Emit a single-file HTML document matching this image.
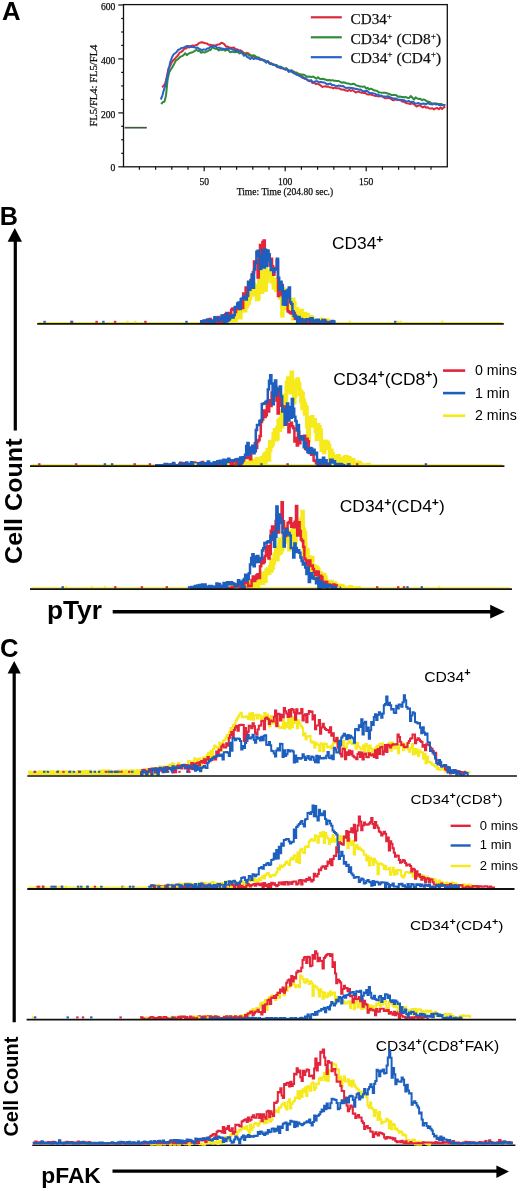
<!DOCTYPE html>
<html><head><meta charset="utf-8"><style>
html,body{margin:0;padding:0;background:#fff;}
body{width:520px;height:1191px;overflow:hidden;position:relative;font-family:"Liberation Sans",sans-serif;}
svg{position:absolute;left:0;top:0;filter:blur(0.3px);}
</style></head><body>
<svg width="520" height="1191" viewBox="0 0 520 1191">
<rect x="123.5" y="4.6" width="323.8" height="162.2" fill="none" stroke="#111" stroke-width="1.3"/>
<line x1="118.3" x2="123.5" y1="166.8" y2="166.8" stroke="#111" stroke-width="1.2"/>
<line x1="121.2" x2="123.5" y1="153.3" y2="153.3" stroke="#111" stroke-width="1.2"/>
<line x1="121.2" x2="123.5" y1="139.8" y2="139.8" stroke="#111" stroke-width="1.2"/>
<line x1="121.2" x2="123.5" y1="126.3" y2="126.3" stroke="#111" stroke-width="1.2"/>
<line x1="118.3" x2="123.5" y1="112.9" y2="112.9" stroke="#111" stroke-width="1.2"/>
<line x1="121.2" x2="123.5" y1="99.4" y2="99.4" stroke="#111" stroke-width="1.2"/>
<line x1="121.2" x2="123.5" y1="85.9" y2="85.9" stroke="#111" stroke-width="1.2"/>
<line x1="121.2" x2="123.5" y1="72.4" y2="72.4" stroke="#111" stroke-width="1.2"/>
<line x1="118.3" x2="123.5" y1="58.9" y2="58.9" stroke="#111" stroke-width="1.2"/>
<line x1="121.2" x2="123.5" y1="45.4" y2="45.4" stroke="#111" stroke-width="1.2"/>
<line x1="121.2" x2="123.5" y1="32.0" y2="32.0" stroke="#111" stroke-width="1.2"/>
<line x1="121.2" x2="123.5" y1="18.5" y2="18.5" stroke="#111" stroke-width="1.2"/>
<line x1="118.3" x2="123.5" y1="5.0" y2="5.0" stroke="#111" stroke-width="1.2"/>
<line x1="139.4" x2="139.4" y1="166.8" y2="169.8" stroke="#111" stroke-width="1.2"/>
<line x1="155.6" x2="155.6" y1="166.8" y2="169.8" stroke="#111" stroke-width="1.2"/>
<line x1="171.8" x2="171.8" y1="166.8" y2="169.8" stroke="#111" stroke-width="1.2"/>
<line x1="188.0" x2="188.0" y1="166.8" y2="169.8" stroke="#111" stroke-width="1.2"/>
<line x1="204.2" x2="204.2" y1="166.8" y2="171.3" stroke="#111" stroke-width="1.2"/>
<line x1="220.4" x2="220.4" y1="166.8" y2="169.8" stroke="#111" stroke-width="1.2"/>
<line x1="236.6" x2="236.6" y1="166.8" y2="169.8" stroke="#111" stroke-width="1.2"/>
<line x1="252.8" x2="252.8" y1="166.8" y2="169.8" stroke="#111" stroke-width="1.2"/>
<line x1="269.0" x2="269.0" y1="166.8" y2="169.8" stroke="#111" stroke-width="1.2"/>
<line x1="285.2" x2="285.2" y1="166.8" y2="171.3" stroke="#111" stroke-width="1.2"/>
<line x1="301.4" x2="301.4" y1="166.8" y2="169.8" stroke="#111" stroke-width="1.2"/>
<line x1="317.6" x2="317.6" y1="166.8" y2="169.8" stroke="#111" stroke-width="1.2"/>
<line x1="333.8" x2="333.8" y1="166.8" y2="169.8" stroke="#111" stroke-width="1.2"/>
<line x1="350.0" x2="350.0" y1="166.8" y2="169.8" stroke="#111" stroke-width="1.2"/>
<line x1="366.2" x2="366.2" y1="166.8" y2="171.3" stroke="#111" stroke-width="1.2"/>
<line x1="382.4" x2="382.4" y1="166.8" y2="169.8" stroke="#111" stroke-width="1.2"/>
<line x1="398.6" x2="398.6" y1="166.8" y2="169.8" stroke="#111" stroke-width="1.2"/>
<line x1="414.8" x2="414.8" y1="166.8" y2="169.8" stroke="#111" stroke-width="1.2"/>
<line x1="431.0" x2="431.0" y1="166.8" y2="169.8" stroke="#111" stroke-width="1.2"/>
<text x="115.4" y="171.4" font-family="Liberation Serif, serif" stroke="#111" stroke-width="0.25" font-size="9.6" text-anchor="end" fill="#111">0</text>
<text x="115.4" y="117.5" font-family="Liberation Serif, serif" stroke="#111" stroke-width="0.25" font-size="9.6" text-anchor="end" fill="#111">200</text>
<text x="115.4" y="63.5" font-family="Liberation Serif, serif" stroke="#111" stroke-width="0.25" font-size="9.6" text-anchor="end" fill="#111">400</text>
<text x="115.4" y="9.6" font-family="Liberation Serif, serif" stroke="#111" stroke-width="0.25" font-size="9.6" text-anchor="end" fill="#111">600</text>
<text x="204.2" y="184.6" font-family="Liberation Serif, serif" stroke="#111" stroke-width="0.25" font-size="9.6" text-anchor="middle" fill="#111">50</text>
<text x="285.2" y="184.6" font-family="Liberation Serif, serif" stroke="#111" stroke-width="0.25" font-size="9.6" text-anchor="middle" fill="#111">100</text>
<text x="366.2" y="184.6" font-family="Liberation Serif, serif" stroke="#111" stroke-width="0.25" font-size="9.6" text-anchor="middle" fill="#111">150</text>
<text x="236.7" y="195.2" font-family="Liberation Serif, serif" stroke="#111" stroke-width="0.25" font-size="9.4" fill="#111" textLength="96.5" lengthAdjust="spacingAndGlyphs">Time: Time (204.80 sec.)</text>
<text transform="translate(97.3,126.6) rotate(-90)" font-family="Liberation Serif, serif" stroke="#111" stroke-width="0.25" font-size="10.4" fill="#111" textLength="82" lengthAdjust="spacingAndGlyphs">FL5/FL4: FL5/FL4</text>
<line x1="310.8" x2="341.8" y1="17.3" y2="17.3" stroke="#dc2a3a" stroke-width="2.2"/>
<text x="350.6" y="24.3" font-family="Liberation Serif, serif" stroke="#111" stroke-width="0.25" font-size="14.8" fill="#111" textLength="41.5" lengthAdjust="spacingAndGlyphs">CD34<tspan dy="-5.5" font-size="9">+</tspan></text>
<line x1="310.8" x2="341.8" y1="37.3" y2="37.3" stroke="#2f8a3a" stroke-width="2.2"/>
<text x="350.6" y="44.3" font-family="Liberation Serif, serif" stroke="#111" stroke-width="0.25" font-size="14.8" fill="#111" textLength="90.5" lengthAdjust="spacingAndGlyphs">CD34<tspan dy="-5.5" font-size="9">+</tspan><tspan dy="5.5"> (CD8</tspan><tspan dy="-5.5" font-size="9">+</tspan><tspan dy="5.5">)</tspan></text>
<line x1="310.8" x2="341.8" y1="57.2" y2="57.2" stroke="#2a62c8" stroke-width="2.2"/>
<text x="350.6" y="62.9" font-family="Liberation Serif, serif" stroke="#111" stroke-width="0.25" font-size="14.8" fill="#111" textLength="90.5" lengthAdjust="spacingAndGlyphs">CD34<tspan dy="-5.5" font-size="9">+</tspan><tspan dy="5.5"> (CD4</tspan><tspan dy="-5.5" font-size="9">+</tspan><tspan dy="5.5">)</tspan></text>
<line x1="124.6" x2="146.8" y1="127.7" y2="127.7" stroke="#3d5a40" stroke-width="1.7"/>
<path d="M162.1,87.2 L163.7,85.8 L165.3,83.2 L166.9,76.1 L168.5,68.4 L170.1,66.0 L171.7,62.3 L173.3,60.1 L174.9,58.9 L176.5,56.9 L178.1,55.2 L179.7,52.6 L181.3,51.9 L182.9,50.6 L184.5,48.6 L186.1,48.5 L187.7,47.1 L189.3,47.5 L190.9,46.0 L192.5,45.5 L194.1,46.0 L195.7,45.2 L197.3,44.8 L198.9,43.1 L200.5,42.5 L202.1,42.2 L203.7,42.8 L205.3,43.3 L206.9,43.4 L208.5,44.7 L210.1,44.8 L211.7,45.3 L213.3,45.2 L214.9,45.9 L216.5,45.0 L218.1,44.5 L219.7,44.2 L221.3,42.7 L222.9,43.3 L224.5,44.4 L226.1,46.8 L227.7,46.5 L229.3,47.4 L230.9,47.8 L232.5,47.8 L234.1,47.6 L235.7,49.5 L237.3,49.3 L238.9,50.6 L240.5,50.2 L242.1,51.3 L243.7,52.9 L245.3,53.7 L246.9,52.8 L248.5,53.5 L250.1,54.9 L251.7,56.0 L253.3,56.4 L254.9,57.2 L256.5,57.1 L258.1,58.7 L259.7,59.7 L261.3,59.5 L262.9,59.6 L264.5,60.6 L266.1,62.1 L267.7,61.3 L269.3,62.9 L270.9,63.0 L272.5,64.2 L274.1,64.7 L275.7,65.5 L277.3,67.0 L278.9,67.1 L280.5,68.2 L282.1,68.1 L283.7,68.5 L285.3,69.6 L286.9,68.5 L288.5,70.7 L290.1,71.4 L291.7,71.3 L293.3,72.9 L294.9,73.0 L296.5,72.5 L298.1,74.4 L299.7,74.6 L301.3,75.8 L302.9,77.0 L304.5,78.7 L306.1,79.1 L307.7,80.0 L309.3,81.2 L310.9,80.8 L312.5,83.1 L314.1,82.4 L315.7,83.9 L317.3,83.7 L318.9,84.4 L320.5,85.3 L322.1,86.9 L323.7,86.6 L325.3,86.2 L326.9,86.7 L328.5,86.6 L330.1,87.5 L331.7,87.4 L333.3,88.4 L334.9,87.5 L336.5,88.3 L338.1,88.3 L339.7,88.6 L341.3,89.6 L342.9,89.5 L344.5,90.0 L346.1,90.6 L347.7,90.9 L349.3,89.7 L350.9,91.0 L352.5,90.0 L354.1,91.2 L355.7,92.6 L357.3,91.7 L358.9,91.8 L360.5,92.4 L362.1,92.7 L363.7,93.0 L365.3,92.9 L366.9,94.2 L368.5,94.5 L370.1,94.2 L371.7,94.8 L373.3,95.4 L374.9,95.9 L376.5,95.9 L378.1,96.4 L379.7,96.2 L381.3,96.1 L382.9,96.8 L384.5,97.9 L386.1,98.2 L387.7,98.1 L389.3,98.1 L390.9,98.9 L392.5,100.0 L394.1,100.2 L395.7,99.4 L397.3,100.1 L398.9,99.7 L400.5,100.2 L402.1,101.4 L403.7,101.7 L405.3,102.6 L406.9,103.2 L408.5,103.4 L410.1,104.1 L411.7,103.5 L413.3,103.6 L414.9,104.9 L416.5,106.5 L418.1,105.7 L419.7,105.3 L421.3,106.4 L422.9,107.4 L424.5,106.3 L426.1,107.7 L427.7,107.2 L429.3,108.6 L430.9,108.5 L432.5,108.3 L434.1,109.4 L435.7,108.2 L437.3,108.1 L438.9,109.2 L440.5,107.5 L442.1,109.0 L443.7,107.5 L445.3,106.7" fill="none" stroke="#dc2a3a" stroke-width="2.0" stroke-linejoin="round"/>
<path d="M161.2,104.1 L162.8,102.0 L164.4,101.7 L166.0,95.7 L167.6,79.7 L169.2,72.2 L170.8,69.4 L172.4,67.1 L174.0,64.2 L175.6,60.9 L177.2,59.7 L178.8,58.4 L180.4,56.7 L182.0,56.1 L183.6,55.1 L185.2,53.2 L186.8,55.2 L188.4,53.8 L190.0,52.9 L191.6,52.6 L193.2,51.8 L194.8,50.9 L196.4,49.8 L198.0,51.0 L199.6,50.6 L201.2,52.8 L202.8,51.9 L204.4,52.6 L206.0,51.9 L207.6,51.3 L209.2,50.2 L210.8,49.9 L212.4,46.8 L214.0,48.3 L215.6,48.7 L217.2,48.9 L218.8,50.4 L220.4,49.4 L222.0,50.2 L223.6,49.3 L225.2,50.7 L226.8,49.8 L228.4,50.0 L230.0,52.3 L231.6,51.7 L233.2,51.7 L234.8,52.2 L236.4,51.7 L238.0,52.3 L239.6,53.5 L241.2,52.5 L242.8,54.1 L244.4,53.2 L246.0,54.5 L247.6,54.0 L249.2,55.8 L250.8,55.8 L252.4,55.5 L254.0,55.3 L255.6,56.4 L257.2,57.4 L258.8,57.5 L260.4,58.8 L262.0,59.9 L263.6,60.0 L265.2,60.5 L266.8,61.9 L268.4,62.0 L270.0,63.4 L271.6,63.4 L273.2,65.1 L274.8,64.7 L276.4,64.9 L278.0,66.2 L279.6,66.4 L281.2,66.9 L282.8,68.0 L284.4,69.1 L286.0,68.1 L287.6,69.9 L289.2,70.5 L290.8,71.1 L292.4,72.2 L294.0,71.5 L295.6,73.1 L297.2,73.2 L298.8,73.9 L300.4,74.2 L302.0,74.4 L303.6,74.7 L305.2,75.5 L306.8,76.8 L308.4,76.5 L310.0,76.7 L311.6,76.9 L313.2,76.6 L314.8,77.6 L316.4,78.7 L318.0,77.2 L319.6,78.7 L321.2,79.0 L322.8,78.8 L324.4,79.2 L326.0,79.7 L327.6,80.3 L329.2,80.0 L330.8,80.5 L332.4,80.1 L334.0,80.7 L335.6,80.7 L337.2,81.1 L338.8,81.0 L340.4,82.0 L342.0,82.8 L343.6,82.3 L345.2,82.8 L346.8,83.4 L348.4,83.4 L350.0,84.2 L351.6,84.2 L353.2,83.8 L354.8,84.2 L356.4,85.5 L358.0,85.8 L359.6,86.4 L361.2,86.4 L362.8,86.9 L364.4,86.4 L366.0,88.5 L367.6,87.8 L369.2,89.4 L370.8,88.6 L372.4,89.4 L374.0,90.4 L375.6,90.6 L377.2,90.9 L378.8,92.3 L380.4,92.6 L382.0,92.8 L383.6,92.8 L385.2,92.8 L386.8,93.3 L388.4,93.7 L390.0,94.3 L391.6,95.0 L393.2,94.9 L394.8,94.9 L396.4,95.3 L398.0,96.7 L399.6,96.4 L401.2,96.7 L402.8,96.9 L404.4,97.2 L406.0,97.1 L407.6,97.9 L409.2,97.9 L410.8,96.0 L412.4,97.7 L414.0,99.6 L415.6,97.4 L417.2,98.4 L418.8,99.1 L420.4,98.8 L422.0,100.2 L423.6,99.4 L425.2,100.1 L426.8,101.3 L428.4,101.7 L430.0,102.2 L431.6,103.3 L433.2,103.4 L434.8,103.4 L436.4,103.4 L438.0,104.0 L439.6,104.0 L441.2,103.9 L442.8,104.8 L444.4,104.9" fill="none" stroke="#2f8a3a" stroke-width="2.0" stroke-linejoin="round"/>
<path d="M160.7,99.5 L162.3,96.0 L163.9,89.8 L165.5,85.2 L167.1,77.2 L168.7,69.4 L170.3,62.0 L171.9,57.5 L173.5,54.5 L175.1,53.3 L176.7,51.9 L178.3,49.7 L179.9,49.2 L181.5,47.9 L183.1,47.7 L184.7,47.2 L186.3,46.2 L187.9,46.1 L189.5,46.2 L191.1,47.0 L192.7,47.1 L194.3,47.2 L195.9,47.9 L197.5,47.6 L199.1,48.9 L200.7,49.5 L202.3,50.0 L203.9,49.4 L205.5,49.9 L207.1,48.4 L208.7,48.5 L210.3,46.7 L211.9,46.3 L213.5,46.9 L215.1,45.5 L216.7,47.6 L218.3,47.7 L219.9,47.8 L221.5,48.6 L223.1,48.8 L224.7,49.2 L226.3,48.7 L227.9,48.6 L229.5,48.7 L231.1,48.7 L232.7,49.7 L234.3,49.8 L235.9,51.3 L237.5,50.2 L239.1,51.1 L240.7,51.8 L242.3,52.4 L243.9,55.8 L245.5,54.7 L247.1,57.1 L248.7,57.7 L250.3,59.1 L251.9,57.2 L253.5,59.1 L255.1,58.3 L256.7,58.8 L258.3,58.6 L259.9,59.5 L261.5,59.2 L263.1,60.4 L264.7,61.3 L266.3,62.7 L267.9,61.0 L269.5,63.8 L271.1,64.2 L272.7,64.0 L274.3,65.1 L275.9,65.4 L277.5,67.2 L279.1,67.0 L280.7,67.5 L282.3,68.1 L283.9,68.8 L285.5,69.4 L287.1,69.7 L288.7,71.9 L290.3,70.4 L291.9,70.3 L293.5,73.0 L295.1,73.8 L296.7,74.9 L298.3,75.3 L299.9,76.2 L301.5,77.1 L303.1,78.1 L304.7,78.0 L306.3,78.7 L307.9,80.6 L309.5,80.5 L311.1,80.1 L312.7,82.2 L314.3,81.7 L315.9,81.3 L317.5,81.3 L319.1,82.4 L320.7,82.1 L322.3,82.3 L323.9,82.5 L325.5,83.2 L327.1,84.4 L328.7,83.9 L330.3,83.6 L331.9,85.1 L333.5,85.0 L335.1,85.6 L336.7,86.1 L338.3,85.6 L339.9,85.8 L341.5,86.2 L343.1,85.9 L344.7,87.3 L346.3,88.0 L347.9,87.7 L349.5,87.8 L351.1,88.1 L352.7,88.1 L354.3,88.5 L355.9,89.0 L357.5,89.1 L359.1,89.7 L360.7,89.4 L362.3,90.9 L363.9,91.2 L365.5,90.9 L367.1,90.7 L368.7,92.4 L370.3,93.4 L371.9,92.9 L373.5,93.4 L375.1,93.8 L376.7,94.9 L378.3,94.4 L379.9,95.9 L381.5,95.5 L383.1,96.6 L384.7,96.4 L386.3,96.6 L387.9,96.2 L389.5,97.0 L391.1,97.6 L392.7,98.4 L394.3,98.5 L395.9,98.4 L397.5,99.3 L399.1,100.0 L400.7,99.7 L402.3,99.8 L403.9,100.2 L405.5,101.2 L407.1,101.4 L408.7,100.9 L410.3,102.0 L411.9,101.8 L413.5,102.0 L415.1,103.5 L416.7,103.6 L418.3,103.0 L419.9,103.8 L421.5,104.1 L423.1,103.4 L424.7,103.7 L426.3,104.2 L427.9,102.8 L429.5,104.0 L431.1,104.3 L432.7,104.4 L434.3,103.5 L435.9,104.6 L437.5,104.1 L439.1,105.1 L440.7,105.3 L442.3,105.2 L443.9,104.9 L445.5,105.1" fill="none" stroke="#2a62c8" stroke-width="2.0" stroke-linejoin="round"/>
<text x="2.0" y="19.6" font-family="Liberation Sans, sans-serif" font-weight="bold" font-size="25.2" fill="#000" textLength="18.6" lengthAdjust="spacingAndGlyphs">A</text>
<text x="-0.3" y="224.8" font-family="Liberation Sans, sans-serif" font-weight="bold" font-size="25.2" fill="#000">B</text>
<text x="-0.1" y="657.2" font-family="Liberation Sans, sans-serif" font-weight="bold" font-size="25.6" fill="#000">C</text>
<line x1="15.3" x2="15.3" y1="240" y2="430.5" stroke="#000" stroke-width="3.2"/>
<polygon points="14.8,228 7.6,241.8 22,241.8" fill="#000"/>
<text transform="translate(21.6,564) rotate(-90)" font-family="Liberation Sans, sans-serif" font-weight="bold" font-size="24.4" fill="#000" textLength="125.5" lengthAdjust="spacingAndGlyphs">Cell Count</text>
<line x1="14.2" x2="14.2" y1="672" y2="1022.3" stroke="#000" stroke-width="3.2"/>
<polygon points="14.2,661 7.6,673.6 20.8,673.6" fill="#000"/>
<text transform="translate(17.9,1136.6) rotate(-90)" font-family="Liberation Sans, sans-serif" font-weight="bold" font-size="20.6" fill="#000" textLength="100" lengthAdjust="spacingAndGlyphs">Cell Count</text>
<text x="46.9" y="618.6" font-family="Liberation Sans, sans-serif" font-weight="bold" font-size="25" fill="#000" textLength="55" lengthAdjust="spacingAndGlyphs">pTyr</text>
<line x1="112.7" x2="492" y1="611.7" y2="611.7" stroke="#000" stroke-width="3.4"/>
<polygon points="504.8,611.7 490.2,604.8 490.2,618.6" fill="#000"/>
<text x="41.3" y="1182.8" font-family="Liberation Sans, sans-serif" font-weight="bold" font-size="22.4" fill="#000" textLength="59.5" lengthAdjust="spacingAndGlyphs">pFAK</text>
<line x1="112.5" x2="498" y1="1171.2" y2="1171.2" stroke="#000" stroke-width="3.2"/>
<polygon points="509,1171.6 496.4,1165.6 496.4,1178" fill="#000"/>
<text x="332.0" y="249.2" font-family="Liberation Sans, sans-serif" font-size="16.8" fill="#000"  textLength="51.5" lengthAdjust="spacingAndGlyphs"><tspan>CD34</tspan><tspan dy="-6.7" font-size="11.8" font-weight="bold">+</tspan></text>
<text x="333.2" y="384.6" font-family="Liberation Sans, sans-serif" font-size="16.4" fill="#000"  textLength="105.0" lengthAdjust="spacingAndGlyphs"><tspan>CD34</tspan><tspan dy="-6.6" font-size="11.5" font-weight="bold">+</tspan><tspan dy="6.6">(CD8</tspan><tspan dy="-6.6" font-size="11.5" font-weight="bold">+</tspan><tspan dy="6.6">)</tspan></text>
<text x="339.8" y="512.4" font-family="Liberation Sans, sans-serif" font-size="16.4" fill="#000"  textLength="105.0" lengthAdjust="spacingAndGlyphs"><tspan>CD34</tspan><tspan dy="-6.6" font-size="11.5" font-weight="bold">+</tspan><tspan dy="6.6">(CD4</tspan><tspan dy="-6.6" font-size="11.5" font-weight="bold">+</tspan><tspan dy="6.6">)</tspan></text>
<line x1="443" x2="465.2" y1="370.6" y2="370.6" stroke="#e3243a" stroke-width="2.6"/>
<text x="475" y="374.8" font-family="Liberation Sans, sans-serif" font-size="14.2" fill="#000">0 mins</text>
<line x1="443" x2="465.2" y1="393.1" y2="393.1" stroke="#1d5fbe" stroke-width="2.6"/>
<text x="475" y="397.6" font-family="Liberation Sans, sans-serif" font-size="14.2" fill="#000">1 min</text>
<line x1="443" x2="465.2" y1="415.7" y2="415.7" stroke="#f7ea1c" stroke-width="2.6"/>
<text x="475" y="419.8" font-family="Liberation Sans, sans-serif" font-size="14.2" fill="#000">2 mins</text>
<text x="424.2" y="681.5" font-family="Liberation Sans, sans-serif" font-size="14.6" fill="#000"  textLength="46.5" lengthAdjust="spacingAndGlyphs"><tspan>CD34</tspan><tspan dy="-5.8" font-size="10.2" font-weight="bold">+</tspan></text>
<text x="410.5" y="803.9" font-family="Liberation Sans, sans-serif" font-size="13.6" fill="#000"  textLength="92.0" lengthAdjust="spacingAndGlyphs"><tspan>CD34</tspan><tspan dy="-5.4" font-size="9.5" font-weight="bold">+</tspan><tspan dy="5.4">(CD8</tspan><tspan dy="-5.4" font-size="9.5" font-weight="bold">+</tspan><tspan dy="5.4">)</tspan></text>
<text x="409.9" y="930.3" font-family="Liberation Sans, sans-serif" font-size="13.6" fill="#000"  textLength="93.5" lengthAdjust="spacingAndGlyphs"><tspan>CD34</tspan><tspan dy="-5.4" font-size="9.5" font-weight="bold">+</tspan><tspan dy="5.4">(CD4</tspan><tspan dy="-5.4" font-size="9.5" font-weight="bold">+</tspan><tspan dy="5.4">)</tspan></text>
<text x="375.8" y="1050.8" font-family="Liberation Sans, sans-serif" font-size="13.8" fill="#000"  textLength="123.5" lengthAdjust="spacingAndGlyphs"><tspan>CD34</tspan><tspan dy="-5.5" font-size="9.7" font-weight="bold">+</tspan><tspan dy="5.5">(CD8</tspan><tspan dy="-5.5" font-size="9.7" font-weight="bold">+</tspan><tspan dy="5.5">FAK)</tspan></text>
<line x1="450.6" x2="470.7" y1="825.8" y2="825.8" stroke="#e3243a" stroke-width="2.4"/>
<text x="479.8" y="830.2" font-family="Liberation Sans, sans-serif" font-size="13" fill="#000">0 mins</text>
<line x1="450.6" x2="470.7" y1="845.5" y2="845.5" stroke="#1d5fbe" stroke-width="2.4"/>
<text x="479.8" y="849.4" font-family="Liberation Sans, sans-serif" font-size="13" fill="#000">1 min</text>
<line x1="450.6" x2="470.7" y1="866.0" y2="866.0" stroke="#f7ea1c" stroke-width="2.4"/>
<text x="479.8" y="870.4" font-family="Liberation Sans, sans-serif" font-size="13" fill="#000">2 mins</text>
<line x1="38.2" x2="501.8" y1="322.5" y2="322.5" stroke="#f7ea1c" stroke-width="1.2"/>
<path d="M205.0 322.8H206.2V322.3H207.4V322.4H208.6V322.8H209.8V321.7H211.0V322.8H212.2V322.7H213.4V321.2H214.6V319.8H215.8V322.8H217.0V322.7H218.2V321.7H219.4V322.8H220.6V321.4H221.8V320.6H223.0V319.6H224.2V321.5H225.4V322.8H226.6V320.9H227.8V320.3H229.0V317.8H230.2V316.3H231.4V320.2H232.6V316.8H233.8V315.5H235.0V320.9H236.2V309.7H237.4V308.5H238.6V312.2H239.8V310.1H241.0V308.2H242.2V301.6H243.4V299.4H244.6V297.1H245.8V306.7H247.0V297.8H248.2V303.1H249.4V290.6H250.6V288.5H251.8V290.0H253.0V284.3H254.2V295.0H255.4V287.6H256.6V286.9H257.8V285.8H259.0V280.3H260.2V280.8H261.4V272.1H262.6V282.0H263.8V270.5H265.0V269.1H266.2V281.2H267.4V276.4H268.6V271.2H269.8V275.0H271.0V269.2H272.2V279.6H273.4V284.9H274.6V279.1H275.8V283.6H277.0V288.2H278.2V283.4H279.4V287.0H280.6V286.7H281.8V305.6H283.0V288.9H284.2V299.1H285.4V291.4H286.6V292.7H287.8V301.7H289.0V301.5H290.2V302.5H291.4V307.1H292.6V299.2H293.8V302.8H295.0V309.8H296.2V308.8H297.4V318.7H298.6V313.0H299.8V313.4H301.0V310.4H302.2V319.8H303.4V318.0H304.6V313.5H305.8V317.0H307.0V314.6H308.2V318.2H309.4V318.1H310.6V316.6H311.8V317.8H313.0V320.9H314.2V321.7H315.4V322.8H316.6V322.8H317.8V320.7H319.0V321.3H320.2V321.1H321.4V319.1H322.6V319.9H323.8V319.6H325.0V322.8H326.2V322.1H327.4V320.3H328.6V321.9H329.8V322.5H331.0" fill="none" stroke="#f7ea1c" stroke-width="3.4" stroke-linejoin="miter"/>
<path d="M205.0 322.8H206.2V322.8H207.4V322.8H208.6V322.8H209.8V322.8H211.0V322.8H212.2V322.8H213.4V322.8H214.6V322.6H215.8V322.5H217.0V322.8H218.2V322.8H219.4V321.5H220.6V322.8H221.8V321.3H223.0V322.8H224.2V321.1H225.4V321.2H226.6V322.3H227.8V322.8H229.0V322.8H230.2V322.8H231.4V322.1H232.6V320.4H233.8V319.5H235.0V318.8H236.2V317.9H237.4V312.1H238.6V310.8H239.8V317.8H241.0V311.1H242.2V305.2H243.4V304.7H244.6V310.8H245.8V306.9H247.0V304.5H248.2V299.0H249.4V298.9H250.6V289.7H251.8V293.7H253.0V290.8H254.2V288.3H255.4V287.0H256.6V299.6H257.8V299.0H259.0V281.8H260.2V278.8H261.4V292.4H262.6V275.5H263.8V274.1H265.0V290.3H266.2V272.8H267.4V273.6H268.6V273.5H269.8V273.4H271.0V281.8H272.2V280.7H273.4V288.1H274.6V284.1H275.8V290.3H277.0V290.6H278.2V290.0H279.4V298.0H280.6V289.3H281.8V315.9H283.0V301.7H284.2V308.4H285.4V298.5H286.6V299.1H287.8V309.0H289.0V306.3H290.2V307.7H291.4V304.0H292.6V318.8H293.8V311.4H295.0V312.7H296.2V316.4H297.4V322.8H298.6V312.6H299.8V313.9H301.0V318.2H302.2V317.4H303.4V321.1H304.6V322.8H305.8V318.4H307.0V322.8H308.2V322.8H309.4V322.2H310.6V322.8H311.8V322.8H313.0V321.1H314.2V322.8H315.4V322.8H316.6V322.8H317.8V321.5H319.0V322.1H320.2V322.8H321.4V322.8H322.6V322.8H323.8V322.8H325.0V322.8H326.2V322.8H327.4V322.8H328.6V322.8H329.8V322.6H331.0" fill="none" stroke="#f7ea1c" stroke-width="3.4" stroke-linejoin="miter"/>
<path d="M200.0 321.2H201.2V322.8H202.4V322.8H203.6V322.8H204.8V320.8H206.0V321.5H207.2V322.8H208.4V322.8H209.6V318.9H210.8V322.1H212.0V321.5H213.2V321.2H214.4V319.4H215.6V322.8H216.8V322.4H218.0V316.9H219.2V322.8H220.4V322.8H221.6V321.4H222.8V315.9H224.0V315.3H225.2V314.2H226.4V313.1H227.6V317.2H228.8V312.9H230.0V315.5H231.2V309.8H232.4V308.5H233.6V309.3H234.8V311.9H236.0V308.8H237.2V308.9H238.4V305.8H239.6V303.9H240.8V301.7H242.0V308.1H243.2V293.6H244.4V294.2H245.6V287.5H246.8V296.0H248.0V289.1H249.2V284.5H250.4V280.0H251.6V287.2H252.8V272.2H254.0V261.4H255.2V261.8H256.4V260.8H257.6V277.4H258.8V256.1H260.0V244.9H261.2V260.8H262.4V241.9H263.6V240.4H264.8V250.5H266.0V256.3H267.2V251.5H268.4V255.5H269.6V265.6H270.8V258.7H272.0V266.3H273.2V274.7H274.4V268.8H275.6V268.2H276.8V260.8H278.0V296.0H279.2V294.6H280.4V292.1H281.6V284.9H282.8V296.1H284.0V293.2H285.2V295.1H286.4V299.3H287.6V311.3H288.8V311.9H290.0V313.0H291.2V313.6H292.4V312.1H293.6V312.9H294.8V318.7H296.0V317.5H297.2V319.9H298.4V320.9H299.6V321.6H300.8V319.4H302.0V321.9H303.2V320.6H304.4V319.8H305.6V321.2H306.8V319.3H308.0V321.0H309.2V321.3H310.4V319.4H311.6V319.5H312.8V322.5H314.0V322.8H315.2V322.8H316.4V322.5H317.6V322.6H318.8V322.8H320.0V322.8H321.2V322.8H322.4V322.7H323.6V322.8H324.8V320.8H326.0V322.8H327.2V322.2H328.4V322.8H329.6V322.7H330.8" fill="none" stroke="#e3243a" stroke-width="2.5" stroke-linejoin="miter"/>
<path d="M200.0 321.6H201.2V322.8H202.4V322.8H203.6V320.6H204.8V320.8H206.0V320.6H207.2V319.5H208.4V322.8H209.6V322.8H210.8V320.6H212.0V322.8H213.2V322.0H214.4V317.3H215.6V318.2H216.8V319.8H218.0V320.8H219.2V318.3H220.4V319.5H221.6V315.5H222.8V318.8H224.0V321.8H225.2V316.8H226.4V313.4H227.6V320.5H228.8V319.3H230.0V316.7H231.2V315.4H232.4V317.5H233.6V315.1H234.8V306.9H236.0V307.2H237.2V303.5H238.4V302.5H239.6V308.9H240.8V299.0H242.0V298.5H243.2V296.6H244.4V297.3H245.6V299.6H246.8V295.2H248.0V281.7H249.2V289.8H250.4V282.5H251.6V274.6H252.8V287.8H254.0V269.5H255.2V262.9H256.4V251.8H257.6V250.8H258.8V256.2H260.0V269.1H261.2V256.1H262.4V249.9H263.6V267.4H264.8V249.7H266.0V266.0H267.2V250.6H268.4V254.2H269.6V260.6H270.8V269.9H272.0V269.3H273.2V272.0H274.4V269.4H275.6V268.4H276.8V258.7H278.0V277.7H279.2V289.7H280.4V281.7H281.6V286.2H282.8V304.4H284.0V291.0H285.2V304.7H286.4V297.2H287.6V289.8H288.8V287.6H290.0V302.2H291.2V304.0H292.4V311.3H293.6V316.0H294.8V315.5H296.0V318.1H297.2V322.5H298.4V317.0H299.6V321.7H300.8V318.9H302.0V320.6H303.2V320.1H304.4V322.6H305.6V322.8H306.8V319.2H308.0V320.2H309.2V321.8H310.4V318.2H311.6V318.5H312.8V320.5H314.0V322.8H315.2V321.3H316.4V319.8H317.6V319.8H318.8V322.8H320.0V321.5H321.2V322.3H322.4V320.0H323.6V320.1H324.8V322.3H326.0V322.8H327.2V322.8H328.4V322.8H329.6V322.0H330.8V321.8H332.0V321.0H333.2V321.5H334.4V322.8H335.6" fill="none" stroke="#1d5fbe" stroke-width="2.5" stroke-linejoin="miter"/>
<rect x="70.9" y="320.8" width="2.4" height="2.0" fill="#e3243a"/>
<rect x="102.2" y="320.8" width="2.4" height="2.0" fill="#1d5fbe"/>
<rect x="134.1" y="320.8" width="2.4" height="2.0" fill="#f7ea1c"/>
<rect x="70.2" y="320.8" width="2.4" height="2.0" fill="#1d5fbe"/>
<rect x="226.0" y="320.8" width="2.4" height="2.0" fill="#1d5fbe"/>
<rect x="95.4" y="320.8" width="2.4" height="2.0" fill="#e3243a"/>
<rect x="306.7" y="320.8" width="2.4" height="2.0" fill="#e3243a"/>
<rect x="185.3" y="320.8" width="2.4" height="2.0" fill="#1d5fbe"/>
<rect x="43.4" y="320.8" width="2.4" height="2.0" fill="#1d5fbe"/>
<rect x="113.9" y="320.8" width="2.4" height="2.0" fill="#e3243a"/>
<rect x="399.4" y="320.8" width="2.4" height="2.0" fill="#f7ea1c"/>
<rect x="396.5" y="320.8" width="2.4" height="2.0" fill="#f7ea1c"/>
<rect x="348.6" y="320.8" width="2.4" height="2.0" fill="#f7ea1c"/>
<rect x="441.0" y="320.8" width="2.4" height="2.0" fill="#f7ea1c"/>
<rect x="126.3" y="320.8" width="2.4" height="2.0" fill="#f7ea1c"/>
<rect x="144.2" y="320.8" width="2.4" height="2.0" fill="#e3243a"/>
<rect x="394.0" y="320.8" width="2.4" height="2.0" fill="#1d5fbe"/>
<rect x="330.8" y="320.8" width="2.4" height="2.0" fill="#1d5fbe"/>
<line x1="37.2" x2="503.8" y1="323.8" y2="323.8" stroke="#111" stroke-width="1.7"/>
<line x1="31.0" x2="502.4" y1="464.9" y2="464.9" stroke="#f7ea1c" stroke-width="1.2"/>
<path d="M200.0 464.8H201.2V465.2H202.4V465.2H203.6V465.2H204.8V465.2H206.0V465.2H207.2V465.2H208.4V465.2H209.6V464.1H210.8V465.2H212.0V464.7H213.2V465.2H214.4V465.1H215.6V465.1H216.8V462.9H218.0V465.2H219.2V463.9H220.4V463.5H221.6V464.3H222.8V465.2H224.0V465.2H225.2V463.6H226.4V462.3H227.6V465.2H228.8V461.6H230.0V465.2H231.2V465.2H232.4V465.2H233.6V461.4H234.8V461.2H236.0V462.3H237.2V462.3H238.4V462.5H239.6V463.2H240.8V462.4H242.0V462.0H243.2V462.0H244.4V465.2H245.6V464.2H246.8V463.6H248.0V462.5H249.2V463.6H250.4V460.1H251.6V460.5H252.8V461.0H254.0V462.1H255.2V462.2H256.4V458.7H257.6V463.8H258.8V460.2H260.0V461.6H261.2V457.7H262.4V462.0H263.6V455.3H264.8V453.6H266.0V453.1H267.2V449.4H268.4V451.8H269.6V441.6H270.8V444.3H272.0V444.4H273.2V433.7H274.4V429.8H275.6V439.9H276.8V438.7H278.0V420.6H279.2V419.3H280.4V426.7H281.6V426.8H282.8V395.3H284.0V403.8H285.2V397.1H286.4V387.2H287.6V377.9H288.8V388.4H290.0V380.7H291.2V372.3H292.4V382.6H293.6V402.9H294.8V386.3H296.0V380.2H297.2V378.9H298.4V387.5H299.6V394.2H300.8V391.9H302.0V393.7H303.2V400.1H304.4V403.7H305.6V407.3H306.8V427.0H308.0V435.1H309.2V418.0H310.4V425.7H311.6V416.6H312.8V421.6H314.0V419.7H315.2V426.0H316.4V429.9H317.6V424.8H318.8V426.6H320.0V429.9H321.2V445.4H322.4V441.5H323.6V452.6H324.8V441.3H326.0V447.7H327.2V442.3H328.4V445.3H329.6V461.4H330.8V450.3H332.0V453.8H333.2V456.9H334.4V463.3H335.6V457.2H336.8V456.7H338.0V455.7H339.2V460.0H340.4V459.8H341.6V462.7H342.8V458.5H344.0V457.4H345.2V456.7H346.4V457.0H347.6V464.0H348.8V457.6H350.0V463.7H351.2V459.6H352.4V459.4H353.6V462.2H354.8V465.2H356.0V464.0H357.2V465.2H358.4V462.2H359.6V463.2H360.8V465.2H362.0V465.2H363.2V465.2H364.4V465.2H365.6V465.2H366.8V465.2H368.0V464.4H369.2V465.2H370.4" fill="none" stroke="#f7ea1c" stroke-width="3.4" stroke-linejoin="miter"/>
<path d="M200.0 465.2H201.2V465.2H202.4V465.2H203.6V465.2H204.8V465.1H206.0V465.2H207.2V465.2H208.4V465.2H209.6V465.2H210.8V465.2H212.0V465.2H213.2V465.1H214.4V465.2H215.6V465.2H216.8V465.2H218.0V465.2H219.2V465.1H220.4V465.2H221.6V465.2H222.8V465.2H224.0V465.2H225.2V465.2H226.4V465.1H227.6V465.2H228.8V465.2H230.0V465.2H231.2V465.2H232.4V465.2H233.6V465.2H234.8V465.2H236.0V465.2H237.2V465.2H238.4V465.2H239.6V465.2H240.8V464.9H242.0V465.2H243.2V465.2H244.4V464.8H245.6V465.2H246.8V465.2H248.0V464.2H249.2V465.2H250.4V465.2H251.6V463.5H252.8V463.2H254.0V463.0H255.2V464.0H256.4V464.2H257.6V462.8H258.8V461.9H260.0V464.0H261.2V463.3H262.4V464.7H263.6V464.3H264.8V462.9H266.0V453.5H267.2V453.2H268.4V460.1H269.6V450.0H270.8V446.4H272.0V442.2H273.2V439.4H274.4V433.4H275.6V435.1H276.8V427.9H278.0V426.7H279.2V430.2H280.4V418.3H281.6V411.0H282.8V407.8H284.0V402.2H285.2V408.9H286.4V382.3H287.6V390.1H288.8V379.9H290.0V392.7H291.2V383.2H292.4V391.1H293.6V383.1H294.8V395.8H296.0V384.7H297.2V383.3H298.4V383.3H299.6V390.3H300.8V401.5H302.0V408.5H303.2V404.0H304.4V414.0H305.6V407.2H306.8V422.1H308.0V441.0H309.2V425.5H310.4V419.1H311.6V419.9H312.8V425.7H314.0V423.5H315.2V431.4H316.4V439.6H317.6V427.4H318.8V432.5H320.0V432.1H321.2V450.2H322.4V447.1H323.6V446.8H324.8V448.1H326.0V448.5H327.2V448.2H328.4V448.2H329.6V452.4H330.8V458.4H332.0V460.9H333.2V461.1H334.4V456.3H335.6V461.6H336.8V461.7H338.0V460.9H339.2V460.2H340.4V464.6H341.6V461.3H342.8V462.5H344.0V460.3H345.2V460.9H346.4V460.9H347.6V461.0H348.8V462.9H350.0V464.1H351.2V463.2H352.4V463.8H353.6V465.2H354.8V465.1H356.0V465.2H357.2V465.1H358.4V465.2H359.6V465.2H360.8V465.2H362.0V465.2H363.2V465.2H364.4V465.2H365.6V465.2H366.8V465.1H368.0V465.2H369.2V465.1H370.4" fill="none" stroke="#f7ea1c" stroke-width="3.4" stroke-linejoin="miter"/>
<path d="M160.0 465.2H161.2V465.2H162.4V465.2H163.6V465.2H164.8V465.2H166.0V465.2H167.2V465.2H168.4V465.2H169.6V465.2H170.8V464.5H172.0V465.2H173.2V464.1H174.4V465.2H175.6V465.2H176.8V465.2H178.0V465.2H179.2V464.1H180.4V465.1H181.6V465.2H182.8V463.5H184.0V463.2H185.2V465.2H186.4V464.4H187.6V465.2H188.8V464.5H190.0V465.2H191.2V463.5H192.4V464.2H193.6V462.5H194.8V463.1H196.0V463.5H197.2V463.8H198.4V465.2H199.6V464.7H200.8V465.2H202.0V462.1H203.2V463.4H204.4V464.8H205.6V465.2H206.8V463.6H208.0V463.8H209.2V463.8H210.4V465.2H211.6V465.2H212.8V465.2H214.0V464.4H215.2V464.0H216.4V464.7H217.6V461.7H218.8V464.3H220.0V465.1H221.2V461.8H222.4V462.2H223.6V465.2H224.8V462.7H226.0V464.8H227.2V465.2H228.4V464.9H229.6V461.4H230.8V460.4H232.0V465.2H233.2V461.6H234.4V461.5H235.6V460.1H236.8V463.8H238.0V462.0H239.2V461.6H240.4V463.9H241.6V462.3H242.8V460.4H244.0V457.6H245.2V458.0H246.4V457.9H247.6V452.5H248.8V451.2H250.0V459.2H251.2V449.6H252.4V449.3H253.6V446.8H254.8V443.2H256.0V448.1H257.2V441.4H258.4V440.1H259.6V436.0H260.8V422.0H262.0V419.4H263.2V410.5H264.4V417.0H265.6V415.2H266.8V400.9H268.0V411.6H269.2V400.3H270.4V406.1H271.6V392.4H272.8V393.5H274.0V395.4H275.2V387.1H276.4V400.6H277.6V413.5H278.8V389.4H280.0V405.5H281.2V405.8H282.4V406.8H283.6V406.5H284.8V408.4H286.0V410.7H287.2V424.2H288.4V432.2H289.6V425.8H290.8V422.7H292.0V426.2H293.2V428.2H294.4V441.4H295.6V438.1H296.8V445.6H298.0V432.1H299.2V443.3H300.4V436.6H301.6V436.3H302.8V438.4H304.0V435.8H305.2V448.9H306.4V438.8H307.6V441.3H308.8V450.0H310.0V453.3H311.2V454.8H312.4V452.6H313.6V460.4H314.8V461.0H316.0V463.2H317.2V464.1H318.4V465.2H319.6V461.1H320.8V461.8H322.0V465.2H323.2V465.2H324.4V465.2H325.6V464.0H326.8V463.5H328.0V464.7H329.2V464.4H330.4" fill="none" stroke="#e3243a" stroke-width="2.5" stroke-linejoin="miter"/>
<path d="M155.0 465.2H156.2V465.2H157.4V465.2H158.6V465.2H159.8V465.2H161.0V465.2H162.2V465.2H163.4V465.2H164.6V464.0H165.8V463.9H167.0V465.2H168.2V465.2H169.4V464.6H170.6V464.7H171.8V464.8H173.0V462.9H174.2V465.2H175.4V465.2H176.6V465.2H177.8V465.2H179.0V465.2H180.2V462.7H181.4V465.2H182.6V464.6H183.8V465.0H185.0V464.4H186.2V462.4H187.4V464.1H188.6V464.9H189.8V465.2H191.0V462.3H192.2V464.4H193.4V463.5H194.6V465.2H195.8V464.9H197.0V464.2H198.2V463.3H199.4V465.2H200.6V462.8H201.8V465.2H203.0V465.2H204.2V463.2H205.4V463.4H206.6V465.2H207.8V461.4H209.0V464.5H210.2V465.0H211.4V463.6H212.6V465.2H213.8V462.2H215.0V464.2H216.2V465.2H217.4V461.2H218.6V462.5H219.8V460.7H221.0V462.9H222.2V464.9H223.4V459.7H224.6V465.2H225.8V459.9H227.0V462.2H228.2V458.7H229.4V460.4H230.6V460.5H231.8V461.1H233.0V460.8H234.2V460.3H235.4V459.6H236.6V459.3H237.8V459.1H239.0V464.9H240.2V457.4H241.4V462.7H242.6V457.3H243.8V458.1H245.0V454.8H246.2V446.1H247.4V443.0H248.6V455.1H249.8V451.7H251.0V447.4H252.2V445.8H253.4V453.3H254.6V451.3H255.8V430.0H257.0V425.1H258.2V425.0H259.4V421.0H260.6V420.6H261.8V404.1H263.0V403.7H264.2V403.2H265.4V401.9H266.6V401.8H267.8V389.4H269.0V380.8H270.2V375.3H271.4V383.6H272.6V404.3H273.8V388.2H275.0V380.4H276.2V395.3H277.4V388.6H278.6V390.1H279.8V386.5H281.0V396.5H282.2V411.6H283.4V409.4H284.6V424.8H285.8V416.0H287.0V403.5H288.2V420.4H289.4V406.9H290.6V417.8H291.8V399.0H293.0V408.8H294.2V416.7H295.4V421.0H296.6V430.4H297.8V425.1H299.0V436.4H300.2V439.6H301.4V438.1H302.6V436.4H303.8V447.2H305.0V443.1H306.2V449.3H307.4V452.0H308.6V452.8H309.8V447.9H311.0V448.4H312.2V453.0H313.4V449.8H314.6V454.3H315.8V452.8H317.0V461.2H318.2V465.2H319.4V460.0H320.6V464.3H321.8V460.1H323.0V457.8H324.2V463.1H325.4V460.3H326.6V465.2H327.8V464.5H329.0V464.6H330.2V459.7H331.4V459.8H332.6V462.4H333.8V461.3H335.0V465.2H336.2V464.0H337.4V464.8H338.6V465.2H339.8V463.9H341.0V464.2H342.2V465.2H343.4V465.2H344.6V465.2H345.8V465.2H347.0V465.2H348.2V465.2H349.4V464.3H350.6" fill="none" stroke="#1d5fbe" stroke-width="2.5" stroke-linejoin="miter"/>
<rect x="356.0" y="463.2" width="2.4" height="2.0" fill="#e3243a"/>
<rect x="243.5" y="463.2" width="2.4" height="2.0" fill="#f7ea1c"/>
<rect x="110.9" y="463.2" width="2.4" height="2.0" fill="#1d5fbe"/>
<rect x="227.2" y="463.2" width="2.4" height="2.0" fill="#f7ea1c"/>
<rect x="199.4" y="463.2" width="2.4" height="2.0" fill="#1d5fbe"/>
<rect x="424.7" y="463.2" width="2.4" height="2.0" fill="#1d5fbe"/>
<rect x="38.1" y="463.2" width="2.4" height="2.0" fill="#e3243a"/>
<rect x="345.5" y="463.2" width="2.4" height="2.0" fill="#f7ea1c"/>
<rect x="194.3" y="463.2" width="2.4" height="2.0" fill="#f7ea1c"/>
<rect x="264.5" y="463.2" width="2.4" height="2.0" fill="#f7ea1c"/>
<rect x="234.4" y="463.2" width="2.4" height="2.0" fill="#e3243a"/>
<rect x="260.2" y="463.2" width="2.4" height="2.0" fill="#1d5fbe"/>
<rect x="133.5" y="463.2" width="2.4" height="2.0" fill="#e3243a"/>
<rect x="346.7" y="463.2" width="2.4" height="2.0" fill="#1d5fbe"/>
<rect x="148.7" y="463.2" width="2.4" height="2.0" fill="#e3243a"/>
<rect x="286.4" y="463.2" width="2.4" height="2.0" fill="#e3243a"/>
<rect x="103.7" y="463.2" width="2.4" height="2.0" fill="#1d5fbe"/>
<rect x="74.9" y="463.2" width="2.4" height="2.0" fill="#e3243a"/>
<line x1="30.0" x2="504.4" y1="466.2" y2="466.2" stroke="#111" stroke-width="1.7"/>
<line x1="31.0" x2="510.0" y1="587.9" y2="587.9" stroke="#f7ea1c" stroke-width="1.2"/>
<path d="M200.0 588.2H201.2V588.2H202.4V587.8H203.6V588.2H204.8V588.2H206.0V587.8H207.2V588.2H208.4V588.2H209.6V588.1H210.8V588.2H212.0V588.2H213.2V588.2H214.4V588.2H215.6V588.2H216.8V588.2H218.0V588.2H219.2V588.2H220.4V588.2H221.6V588.2H222.8V588.2H224.0V588.2H225.2V588.2H226.4V588.2H227.6V587.6H228.8V588.2H230.0V585.6H231.2V585.4H232.4V588.2H233.6V584.8H234.8V586.0H236.0V586.8H237.2V586.9H238.4V583.8H239.6V588.2H240.8V587.1H242.0V583.1H243.2V583.1H244.4V585.8H245.6V582.3H246.8V588.2H248.0V581.6H249.2V583.6H250.4V581.1H251.6V582.9H252.8V584.0H254.0V587.9H255.2V585.3H256.4V587.5H257.6V580.7H258.8V580.7H260.0V580.1H261.2V576.7H262.4V572.9H263.6V574.9H264.8V573.6H266.0V573.9H267.2V568.9H268.4V572.0H269.6V566.6H270.8V559.5H272.0V564.8H273.2V561.2H274.4V556.1H275.6V547.7H276.8V553.0H278.0V551.4H279.2V539.1H280.4V541.9H281.6V549.7H282.8V533.2H284.0V526.4H285.2V536.4H286.4V542.0H287.6V531.5H288.8V532.3H290.0V532.3H291.2V531.1H292.4V535.4H293.6V535.6H294.8V522.8H296.0V521.3H297.2V532.4H298.4V527.1H299.6V525.3H300.8V522.6H302.0V511.5H303.2V529.2H304.4V532.4H305.6V550.5H306.8V549.4H308.0V557.2H309.2V557.0H310.4V564.9H311.6V557.5H312.8V568.3H314.0V565.9H315.2V567.4H316.4V567.1H317.6V569.3H318.8V574.7H320.0V572.9H321.2V575.5H322.4V578.2H323.6V574.5H324.8V577.2H326.0V581.2H327.2V586.9H328.4V586.0H329.6V583.4H330.8V581.5H332.0V584.7H333.2V585.4H334.4V583.0H335.6V588.2H336.8V586.2H338.0V585.1H339.2V588.2H340.4V586.6H341.6V585.5H342.8V587.2H344.0V587.4H345.2V588.2H346.4V588.2H347.6V588.2H348.8V588.2H350.0V586.6H351.2V588.2H352.4V588.2H353.6V588.2H354.8V588.2H356.0V588.2H357.2V588.2H358.4V588.2H359.6V588.1H360.8" fill="none" stroke="#f7ea1c" stroke-width="3.4" stroke-linejoin="miter"/>
<path d="M200.0 588.2H201.2V588.2H202.4V588.1H203.6V588.2H204.8V588.2H206.0V588.2H207.2V588.2H208.4V588.1H209.6V588.2H210.8V588.2H212.0V588.1H213.2V588.2H214.4V588.2H215.6V588.2H216.8V588.2H218.0V588.2H219.2V588.2H220.4V588.2H221.6V588.2H222.8V588.2H224.0V588.2H225.2V588.2H226.4V588.2H227.6V588.2H228.8V588.2H230.0V587.8H231.2V588.2H232.4V588.2H233.6V588.0H234.8V588.2H236.0V587.2H237.2V588.1H238.4V587.2H239.6V588.2H240.8V588.2H242.0V588.2H243.2V588.2H244.4V587.6H245.6V588.2H246.8V587.1H248.0V586.4H249.2V584.9H250.4V585.7H251.6V585.8H252.8V587.4H254.0V586.4H255.2V585.8H256.4V586.5H257.6V586.4H258.8V582.6H260.0V581.9H261.2V580.1H262.4V583.3H263.6V575.5H264.8V581.4H266.0V570.3H267.2V571.5H268.4V573.2H269.6V569.4H270.8V571.1H272.0V568.3H273.2V563.0H274.4V554.3H275.6V558.0H276.8V559.9H278.0V554.2H279.2V543.0H280.4V552.9H281.6V545.4H282.8V546.8H284.0V540.8H285.2V540.3H286.4V538.6H287.6V534.9H288.8V549.7H290.0V532.8H291.2V536.9H292.4V529.8H293.6V546.8H294.8V543.1H296.0V524.8H297.2V532.5H298.4V526.7H299.6V528.5H300.8V519.1H302.0V524.8H303.2V555.0H304.4V542.1H305.6V551.3H306.8V552.0H308.0V563.5H309.2V558.5H310.4V559.0H311.6V577.0H312.8V572.4H314.0V573.7H315.2V579.0H316.4V575.6H317.6V577.7H318.8V574.1H320.0V581.9H321.2V581.4H322.4V578.7H323.6V577.8H324.8V580.5H326.0V584.0H327.2V583.4H328.4V585.3H329.6V587.2H330.8V588.0H332.0V588.2H333.2V587.0H334.4V587.1H335.6V588.0H336.8V587.1H338.0V588.2H339.2V588.2H340.4V588.1H341.6V588.1H342.8V588.2H344.0V588.2H345.2V588.2H346.4V588.2H347.6V588.2H348.8V588.2H350.0V588.2H351.2V588.2H352.4V588.2H353.6V588.2H354.8V588.2H356.0V588.2H357.2V588.2H358.4V588.2H359.6V587.9H360.8" fill="none" stroke="#f7ea1c" stroke-width="3.4" stroke-linejoin="miter"/>
<path d="M200.0 587.8H201.2V588.2H202.4V588.2H203.6V588.2H204.8V587.4H206.0V588.2H207.2V588.2H208.4V587.0H209.6V588.2H210.8V586.8H212.0V588.2H213.2V587.1H214.4V588.0H215.6V587.4H216.8V588.2H218.0V586.6H219.2V586.0H220.4V587.7H221.6V585.7H222.8V587.3H224.0V585.5H225.2V585.4H226.4V588.2H227.6V588.2H228.8V588.0H230.0V588.2H231.2V587.5H232.4V587.3H233.6V586.6H234.8V584.5H236.0V584.4H237.2V586.1H238.4V584.9H239.6V587.4H240.8V587.3H242.0V585.9H243.2V588.2H244.4V581.9H245.6V580.7H246.8V582.8H248.0V586.2H249.2V585.8H250.4V586.0H251.6V580.0H252.8V576.5H254.0V580.9H255.2V579.0H256.4V575.2H257.6V574.3H258.8V578.0H260.0V566.2H261.2V558.1H262.4V563.3H263.6V562.1H264.8V555.9H266.0V547.2H267.2V546.3H268.4V558.4H269.6V554.0H270.8V530.7H272.0V526.6H273.2V539.8H274.4V530.1H275.6V521.0H276.8V515.6H278.0V532.4H279.2V521.6H280.4V523.0H281.6V502.3H282.8V521.3H284.0V528.4H285.2V535.9H286.4V534.6H287.6V523.0H288.8V522.0H290.0V518.2H291.2V526.8H292.4V523.5H293.6V527.3H294.8V521.7H296.0V506.1H297.2V535.5H298.4V522.3H299.6V531.0H300.8V539.4H302.0V541.1H303.2V546.9H304.4V558.8H305.6V560.4H306.8V564.5H308.0V566.1H309.2V560.4H310.4V565.9H311.6V565.6H312.8V568.9H314.0V571.7H315.2V574.9H316.4V571.4H317.6V571.8H318.8V583.8H320.0V575.7H321.2V577.0H322.4V583.7H323.6V584.3H324.8V581.8H326.0V581.9H327.2V585.0H328.4V584.5H329.6V585.1H330.8V586.6H332.0V586.7H333.2V584.5H334.4V585.1H335.6V585.6H336.8V588.2H338.0V588.2H339.2V587.2H340.4" fill="none" stroke="#e3243a" stroke-width="2.5" stroke-linejoin="miter"/>
<path d="M190.0 588.2H191.2V587.1H192.4V588.2H193.6V588.2H194.8V586.1H196.0V588.2H197.2V585.6H198.4V588.2H199.6V585.1H200.8V588.2H202.0V584.6H203.2V588.1H204.4V584.6H205.6V588.2H206.8V586.8H208.0V588.2H209.2V586.0H210.4V586.0H211.6V587.4H212.8V588.2H214.0V586.7H215.2V586.9H216.4V583.5H217.6V585.7H218.8V584.0H220.0V586.5H221.2V587.0H222.4V586.9H223.6V583.1H224.8V585.0H226.0V588.2H227.2V582.2H228.4V584.0H229.6V584.3H230.8V582.2H232.0V583.3H233.2V583.7H234.4V584.7H235.6V586.4H236.8V585.4H238.0V580.2H239.2V581.8H240.4V583.5H241.6V586.9H242.8V580.5H244.0V579.0H245.2V574.8H246.4V580.6H247.6V579.0H248.8V573.3H250.0V564.5H251.2V558.0H252.4V554.3H253.6V566.2H254.8V562.2H256.0V556.4H257.2V556.1H258.4V562.1H259.6V558.9H260.8V558.4H262.0V550.4H263.2V548.2H264.4V543.1H265.6V543.6H266.8V542.0H268.0V541.2H269.2V542.2H270.4V536.1H271.6V538.0H272.8V532.4H274.0V546.7H275.2V536.7H276.4V506.4H277.6V529.1H278.8V514.5H280.0V518.3H281.2V521.5H282.4V532.6H283.6V546.6H284.8V534.8H286.0V529.2H287.2V532.7H288.4V533.0H289.6V535.5H290.8V548.1H292.0V548.1H293.2V557.5H294.4V543.6H295.6V548.1H296.8V552.1H298.0V550.3H299.2V552.8H300.4V557.4H301.6V561.0H302.8V564.5H304.0V563.1H305.2V567.6H306.4V574.0H307.6V567.9H308.8V582.1H310.0V578.3H311.2V573.3H312.4V576.8H313.6V578.6H314.8V578.7H316.0V583.2H317.2V578.1H318.4V587.9H319.6V581.4H320.8V587.3H322.0V582.8H323.2V586.8H324.4V584.6H325.6V586.8H326.8V587.5H328.0V585.3H329.2V586.3H330.4V585.8H331.6V588.2H332.8V588.2H334.0V587.6H335.2V587.2H336.4V588.2H337.6V588.2H338.8V588.2H340.0V588.1H341.2" fill="none" stroke="#1d5fbe" stroke-width="2.5" stroke-linejoin="miter"/>
<rect x="438.0" y="586.2" width="2.4" height="2.0" fill="#f7ea1c"/>
<rect x="187.8" y="586.2" width="2.4" height="2.0" fill="#1d5fbe"/>
<rect x="103.8" y="586.2" width="2.4" height="2.0" fill="#f7ea1c"/>
<rect x="376.0" y="586.2" width="2.4" height="2.0" fill="#e3243a"/>
<rect x="114.1" y="586.2" width="2.4" height="2.0" fill="#e3243a"/>
<rect x="140.7" y="586.2" width="2.4" height="2.0" fill="#e3243a"/>
<rect x="420.6" y="586.2" width="2.4" height="2.0" fill="#1d5fbe"/>
<rect x="90.5" y="586.2" width="2.4" height="2.0" fill="#f7ea1c"/>
<rect x="165.6" y="586.2" width="2.4" height="2.0" fill="#e3243a"/>
<rect x="213.3" y="586.2" width="2.4" height="2.0" fill="#1d5fbe"/>
<rect x="337.4" y="586.2" width="2.4" height="2.0" fill="#f7ea1c"/>
<rect x="402.8" y="586.2" width="2.4" height="2.0" fill="#e3243a"/>
<rect x="217.1" y="586.2" width="2.4" height="2.0" fill="#1d5fbe"/>
<rect x="64.8" y="586.2" width="2.4" height="2.0" fill="#f7ea1c"/>
<rect x="397.0" y="586.2" width="2.4" height="2.0" fill="#e3243a"/>
<rect x="61.5" y="586.2" width="2.4" height="2.0" fill="#1d5fbe"/>
<rect x="406.3" y="586.2" width="2.4" height="2.0" fill="#1d5fbe"/>
<rect x="243.9" y="586.2" width="2.4" height="2.0" fill="#1d5fbe"/>
<line x1="30.0" x2="512.0" y1="589.2" y2="589.2" stroke="#111" stroke-width="1.7"/>
<line x1="28.3" x2="160.0" y1="773.6" y2="773.6" stroke="#f7ea1c" stroke-width="3.0"/>
<path d="M28.0 772.2H29.2V771.4H30.5V772.2H31.8V772.2H33.0V772.2H34.2V772.2H35.5V772.2H36.8V772.2H38.0V772.2H39.2V771.3H40.5V772.2H41.8V772.2H43.0V771.6H44.2V771.2H45.5V771.3H46.8V772.2H48.0V772.2H49.2V772.2H50.5V771.2H51.8V771.2H53.0V771.2H54.2V771.5H55.5V772.2H56.8V772.1H58.0V771.1H59.2V771.4H60.5V771.5H61.8V772.2H63.0V771.8H64.2V772.2H65.5V771.3H66.8V772.2H68.0V772.2H69.2V771.7H70.5V771.2H71.8V772.0H73.0V772.2H74.2V772.2H75.5V772.2H76.8V771.7H78.0V770.9H79.2V770.9H80.5V770.9H81.8V772.2H83.0V772.2H84.2V770.8H85.5V771.3H86.8V772.2H88.0V771.0H89.2V770.8H90.5V772.2H91.8V772.2H93.0V772.2H94.2V771.4H95.5V772.2H96.8V772.2H98.0V772.2H99.2V770.7H100.5V771.8H101.8V770.6H103.0V770.6H104.2V772.2H105.5V770.6H106.8V770.6H108.0V771.5H109.2V770.6H110.5V772.2H111.8V771.5H113.0V771.9H114.2V772.0H115.5V771.5H116.8V771.2H118.0V770.5H119.2V771.2H120.5V772.2H121.8V770.4H123.0V771.9H124.2V772.2H125.5V770.4H126.8V772.1H128.0V772.2H129.2V770.7H130.5V770.3H131.8V772.2H133.0V770.3H134.2V772.1H135.5V770.9H136.8V770.3H138.0V772.2H139.2V770.2H140.5V770.0H141.8V769.8H143.0V772.2H144.2V771.3H145.5V771.0H146.8V768.9H148.0V772.0H149.2V768.8H150.5V769.5H151.8V768.3H153.0V769.5H154.2V770.1H155.5V768.6H156.8V771.8H158.0V769.9H159.2V766.6H160.5V769.2H161.8V768.6H163.0V766.5H164.2V772.2H165.5V768.9H166.8V766.3H168.0V767.2H169.2V764.7H170.5V767.8H171.8V763.2H173.0V764.0H174.2V767.1H175.5V766.9H176.8V765.6H178.0V763.1H179.2V767.5H180.5V764.8H181.8V765.6H183.0V766.4H184.2V766.4H185.5V766.3H186.8V766.0H188.0V761.3H189.2V761.1H190.5V764.4H191.8V762.5H193.0V761.5H194.2V758.3H195.5V759.8H196.8V766.0H198.0V758.9H199.2V758.6H200.5V770.7H201.8V763.2H203.0V757.5H204.2V758.3H205.5V757.2H206.8V755.0H208.0V752.8H209.2V761.7H210.5V750.9H211.8V759.6H213.0V748.9H214.2V745.5H215.5V746.9H216.8V747.5H218.0V751.8H219.2V742.5H220.5V750.7H221.8V745.5H223.0V740.7H224.2V740.1H225.5V737.4H226.8V734.9H228.0V739.2H229.2V731.6H230.5V728.0H231.8V732.1H233.0V725.3H234.2V724.3H235.5V720.4H236.8V718.4H238.0V716.5H239.2V714.6H240.5V712.7H241.8V717.3H243.0V716.6H244.2V716.6H245.5V717.5H246.8V716.2H248.0V719.0H249.2V713.6H250.5V719.6H251.8V712.9H253.0V719.8H254.2V715.3H255.5V714.7H256.8V718.6H258.0V714.7H259.2V715.3H260.5V719.2H261.8V716.6H263.0V718.6H264.2V713.1H265.5V720.2H266.8V714.3H268.0V719.1H269.2V726.6H270.5V716.1H271.8V723.6H273.0V720.5H274.2V722.0H275.5V724.3H276.8V718.7H278.0V725.7H279.2V727.7H280.5V726.9H281.8V728.1H283.0V720.0H284.2V728.4H285.5V723.1H286.8V727.1H288.0V718.7H289.2V728.7H290.5V718.8H291.8V727.3H293.0V717.4H294.2V723.0H295.5V719.7H296.8V728.2H298.0V720.3H299.2V723.5H300.5V726.1H301.8V727.8H303.0V735.6H304.2V733.2H305.5V739.3H306.8V736.4H308.0V736.3H309.2V736.1H310.5V741.4H311.8V742.7H313.0V741.5H314.2V747.7H315.5V742.8H316.8V744.5H318.0V745.1H319.2V751.0H320.5V743.3H321.8V744.5H323.0V751.2H324.2V743.6H325.5V743.9H326.8V747.3H328.0V746.8H329.2V746.4H330.5V748.6H331.8V745.6H333.0V743.0H334.2V740.4H335.5V742.5H336.8V737.4H338.0V744.9H339.2V743.1H340.5V741.6H341.8V745.2H343.0V741.1H344.2V746.7H345.5V748.3H346.8V743.6H348.0V742.6H349.2V740.2H350.5V743.1H351.8V743.9H353.0V744.1H354.2V742.2H355.5V748.7H356.8V743.1H358.0V746.5H359.2V747.6H360.5V749.5H361.8V748.4H363.0V745.4H364.2V751.4H365.5V743.9H366.8V746.1H368.0V752.4H369.2V745.6H370.5V748.2H371.8V753.8H373.0V749.3H374.2V753.6H375.5V747.5H376.8V745.7H378.0V747.6H379.2V744.0H380.5V743.8H381.8V743.5H383.0V748.7H384.2V749.4H385.5V745.8H386.8V744.7H388.0V747.4H389.2V742.4H390.5V750.8H391.8V742.4H393.0V746.0H394.2V748.5H395.5V744.0H396.8V747.4H398.0V753.3H399.2V744.9H400.5V745.9H401.8V742.9H403.0V750.3H404.2V744.3H405.5V747.4H406.8V744.6H408.0V749.4H409.2V751.7H410.5V748.1H411.8V744.1H413.0V754.6H414.2V748.9H415.5V753.7H416.8V749.5H418.0V756.0H419.2V750.6H420.5V752.5H421.8V752.2H423.0V758.8H424.2V753.9H425.5V763.2H426.8V756.4H428.0V762.0H429.2V761.7H430.5V763.0H431.8V764.8H433.0V764.5H434.2V766.2H435.5V766.8H436.8V769.2H438.0V767.8H439.2V769.8H440.5V769.2H441.8V768.7H443.0V769.3H444.2V770.0H445.5V771.4H446.8V770.7H448.0V772.2H449.2V772.2H450.5V772.2H451.8V772.0H453.0V772.2H454.2V772.2H455.5V772.2H456.8V772.2H458.0V772.2H459.2V772.2H460.5V772.2H461.8V772.2H463.0V772.2H464.2V772.2H465.5V772.2H466.8V772.2H468.0V772.2H469.2V772.2H470.5" fill="none" stroke="#f7ea1c" stroke-width="2.0" stroke-linejoin="miter"/>
<path d="M140.0 772.0H141.2V772.8H142.5V770.1H143.8V769.7H145.0V771.1H146.2V773.6H147.5V771.5H148.8V769.1H150.0V770.4H151.2V768.8H152.5V768.6H153.8V769.7H155.0V768.3H156.2V771.5H157.5V769.7H158.8V770.5H160.0V767.7H161.2V770.8H162.5V769.1H163.8V768.6H165.0V769.4H166.2V767.1H167.5V767.8H168.8V769.1H170.0V767.9H171.2V768.3H172.5V772.5H173.8V770.1H175.0V772.3H176.2V766.6H177.5V765.6H178.8V767.5H180.0V765.6H181.2V768.5H182.5V764.9H183.8V764.8H185.0V768.5H186.2V764.9H187.5V772.1H188.8V767.2H190.0V768.8H191.2V763.1H192.5V769.2H193.8V763.5H195.0V765.8H196.2V763.2H197.5V762.4H198.8V765.6H200.0V762.1H201.2V761.0H202.5V762.8H203.8V759.3H205.0V763.3H206.2V759.5H207.5V756.9H208.8V759.3H210.0V759.4H211.2V759.9H212.5V757.8H213.8V756.7H215.0V759.4H216.2V751.6H217.5V754.1H218.8V749.6H220.0V750.3H221.2V746.5H222.5V744.4H223.8V747.4H225.0V747.6H226.2V743.3H227.5V745.7H228.8V737.8H230.0V735.1H231.2V731.9H232.5V737.3H233.8V730.0H235.0V727.5H236.2V726.0H237.5V730.8H238.8V725.3H240.0V725.0H241.2V724.7H242.5V725.0H243.8V741.0H245.0V728.1H246.2V741.1H247.5V731.7H248.8V725.7H250.0V726.3H251.2V728.2H252.5V723.2H253.8V726.3H255.0V732.7H256.2V734.6H257.5V729.4H258.8V725.7H260.0V725.4H261.2V721.2H262.5V720.7H263.8V729.2H265.0V718.4H266.2V717.5H267.5V718.9H268.8V724.1H270.0V720.5H271.2V721.2H272.5V721.4H273.8V716.8H275.0V710.4H276.2V726.3H277.5V713.8H278.8V714.2H280.0V720.6H281.2V714.8H282.5V717.6H283.8V708.1H285.0V711.2H286.2V713.4H287.5V717.1H288.8V710.1H290.0V716.6H291.2V709.0H292.5V709.8H293.8V712.6H295.0V719.8H296.2V709.2H297.5V713.4H298.8V713.5H300.0V713.0H301.2V709.1H302.5V720.5H303.8V715.2H305.0V714.2H306.2V722.3H307.5V714.1H308.8V711.0H310.0V712.1H311.2V711.4H312.5V719.6H313.8V715.3H315.0V729.2H316.2V725.4H317.5V725.4H318.8V720.0H320.0V733.8H321.2V727.5H322.5V723.7H323.8V727.6H325.0V728.9H326.2V729.9H327.5V730.0H328.8V732.5H330.0V727.3H331.2V735.7H332.5V733.3H333.8V740.5H335.0V741.2H336.2V737.9H337.5V747.7H338.8V746.0H340.0V753.7H341.2V756.4H342.5V748.4H343.8V749.2H345.0V759.2H346.2V752.3H347.5V754.9H348.8V750.5H350.0V754.5H351.2V751.2H352.5V755.8H353.8V757.2H355.0V757.4H356.2V759.3H357.5V754.1H358.8V752.3H360.0V757.1H361.2V752.4H362.5V759.5H363.8V754.2H365.0V753.5H366.2V756.9H367.5V757.2H368.8V753.2H370.0V755.0H371.2V755.4H372.5V754.2H373.8V757.0H375.0V750.3H376.2V758.0H377.5V749.1H378.8V754.1H380.0V747.5H381.2V746.8H382.5V754.4H383.8V751.3H385.0V744.9H386.2V752.0H387.5V744.8H388.8V745.8H390.0V747.6H391.2V745.2H392.5V744.2H393.8V744.6H395.0V744.2H396.2V744.6H397.5V734.4H398.8V736.9H400.0V741.7H401.2V745.0H402.5V744.5H403.8V747.1H405.0V747.2H406.2V746.8H407.5V743.0H408.8V741.1H410.0V738.8H411.2V738.3H412.5V734.5H413.8V734.5H415.0V743.3H416.2V740.1H417.5V738.2H418.8V739.5H420.0V741.0H421.2V742.0H422.5V746.7H423.8V744.9H425.0V750.3H426.2V744.3H427.5V744.8H428.8V745.3H430.0V747.6H431.2V748.8H432.5V751.0H433.8V754.6H435.0V752.8H436.2V760.4H437.5V760.3H438.8V760.1H440.0V765.0H441.2V766.6H442.5V766.2H443.8V766.3H445.0V769.3H446.2V770.2H447.5V766.9H448.8V770.6H450.0V773.6H451.2V772.8H452.5V772.8H453.8V770.2H455.0V770.2H456.2V772.4H457.5V771.0H458.8V773.6H460.0V773.2H461.2V771.9H462.5V772.4H463.8V773.6H465.0V771.8H466.2" fill="none" stroke="#e3243a" stroke-width="2.0" stroke-linejoin="miter"/>
<path d="M140.0 773.7H141.2V774.4H142.5V770.4H143.8V772.0H145.0V772.4H146.2V774.4H147.5V772.0H148.8V770.5H150.0V769.7H151.2V774.4H152.5V769.1H153.8V770.5H155.0V772.4H156.2V768.5H157.5V774.4H158.8V768.2H160.0V768.0H161.2V768.7H162.5V772.2H163.8V767.5H165.0V770.1H166.2V771.7H167.5V767.7H168.8V768.1H170.0V768.4H171.2V770.2H172.5V766.3H173.8V768.7H175.0V767.8H176.2V767.6H177.5V768.3H178.8V767.8H180.0V767.3H181.2V766.1H182.5V765.0H183.8V766.0H185.0V768.1H186.2V766.8H187.5V768.1H188.8V765.4H190.0V767.8H191.2V767.8H192.5V768.6H193.8V765.2H195.0V770.8H196.2V765.9H197.5V769.7H198.8V767.5H200.0V771.3H201.2V768.0H202.5V767.1H203.8V766.1H205.0V767.6H206.2V768.0H207.5V762.8H208.8V761.0H210.0V760.4H211.2V759.1H212.5V758.1H213.8V757.6H215.0V756.6H216.2V756.5H217.5V755.0H218.8V755.6H220.0V756.1H221.2V754.4H222.5V759.6H223.8V752.2H225.0V752.2H226.2V752.1H227.5V752.8H228.8V756.1H230.0V742.7H231.2V750.7H232.5V738.0H233.8V738.5H235.0V740.2H236.2V738.4H237.5V738.6H238.8V738.9H240.0V740.9H241.2V749.6H242.5V745.9H243.8V747.9H245.0V743.0H246.2V738.7H247.5V735.1H248.8V738.2H250.0V738.4H251.2V737.3H252.5V734.7H253.8V740.0H255.0V742.8H256.2V736.6H257.5V738.7H258.8V737.7H260.0V740.6H261.2V736.7H262.5V740.2H263.8V735.7H265.0V735.2H266.2V744.7H267.5V745.1H268.8V742.1H270.0V745.2H271.2V750.8H272.5V751.3H273.8V753.6H275.0V756.5H276.2V750.5H277.5V748.2H278.8V750.5H280.0V743.8H281.2V744.1H282.5V757.1H283.8V750.2H285.0V756.1H286.2V754.3H287.5V750.1H288.8V751.5H290.0V750.4H291.2V750.4H292.5V751.6H293.8V762.4H295.0V755.5H296.2V761.7H297.5V757.9H298.8V758.4H300.0V758.7H301.2V758.1H302.5V754.2H303.8V756.7H305.0V759.9H306.2V757.7H307.5V756.1H308.8V758.8H310.0V759.7H311.2V756.5H312.5V757.3H313.8V760.2H315.0V762.3H316.2V755.8H317.5V762.5H318.8V756.3H320.0V758.4H321.2V758.1H322.5V758.5H323.8V757.8H325.0V758.2H326.2V755.7H327.5V752.0H328.8V757.8H330.0V758.3H331.2V755.5H332.5V759.2H333.8V747.7H335.0V749.6H336.2V752.6H337.5V752.4H338.8V740.7H340.0V745.4H341.2V737.6H342.5V735.7H343.8V733.8H345.0V735.8H346.2V739.3H347.5V735.0H348.8V738.2H350.0V735.8H351.2V737.3H352.5V738.2H353.8V742.7H355.0V729.2H356.2V729.0H357.5V730.2H358.8V725.3H360.0V727.1H361.2V719.3H362.5V734.4H363.8V723.1H365.0V721.8H366.2V730.9H367.5V727.4H368.8V738.8H370.0V730.3H371.2V722.0H372.5V725.0H373.8V716.9H375.0V714.3H376.2V720.1H377.5V715.1H378.8V712.3H380.0V713.7H381.2V717.8H382.5V713.5H383.8V705.3H385.0V704.0H386.2V696.5H387.5V704.9H388.8V702.8H390.0V705.3H391.2V709.6H392.5V709.0H393.8V712.8H395.0V713.1H396.2V705.7H397.5V708.4H398.8V704.4H400.0V704.5H401.2V706.8H402.5V702.2H403.8V695.2H405.0V700.2H406.2V706.9H407.5V708.7H408.8V708.4H410.0V721.1H411.2V715.6H412.5V712.3H413.8V713.2H415.0V721.9H416.2V722.6H417.5V723.4H418.8V723.0H420.0V727.7H421.2V733.2H422.5V727.3H423.8V732.5H425.0V734.7H426.2V733.6H427.5V742.2H428.8V742.6H430.0V751.0H431.2V750.5H432.5V752.7H433.8V753.4H435.0V758.4H436.2V763.0H437.5V764.6H438.8V760.0H440.0V761.7H441.2V766.6H442.5V765.9H443.8V765.0H445.0V765.0H446.2V766.8H447.5V772.4H448.8V767.6H450.0V772.2H451.2V770.2H452.5V772.9H453.8V769.9H455.0V771.7H456.2V774.4H457.5V771.7H458.8V771.6H460.0V774.4H461.2V774.4H462.5V774.4H463.8V773.2H465.0V772.8H466.2V773.1H467.5V774.4H468.8" fill="none" stroke="#1d5fbe" stroke-width="2.0" stroke-linejoin="miter"/>
<rect x="33.4" y="770.8" width="2.4" height="2.0" fill="#1d5fbe"/>
<rect x="56.4" y="770.8" width="2.4" height="2.0" fill="#e3243a"/>
<rect x="171.2" y="770.8" width="2.4" height="2.0" fill="#1d5fbe"/>
<rect x="178.3" y="770.8" width="2.4" height="2.0" fill="#e3243a"/>
<rect x="115.1" y="770.8" width="2.4" height="2.0" fill="#e3243a"/>
<rect x="43.0" y="770.8" width="2.4" height="2.0" fill="#1d5fbe"/>
<rect x="46.7" y="770.8" width="2.4" height="2.0" fill="#1d5fbe"/>
<rect x="128.0" y="770.8" width="2.4" height="2.0" fill="#e3243a"/>
<rect x="62.3" y="770.8" width="2.4" height="2.0" fill="#e3243a"/>
<rect x="89.6" y="770.8" width="2.4" height="2.0" fill="#1d5fbe"/>
<rect x="78.0" y="770.8" width="2.4" height="2.0" fill="#e3243a"/>
<rect x="72.7" y="770.8" width="2.4" height="2.0" fill="#1d5fbe"/>
<rect x="97.9" y="770.8" width="2.4" height="2.0" fill="#1d5fbe"/>
<rect x="115.4" y="770.8" width="2.4" height="2.0" fill="#1d5fbe"/>
<rect x="93.6" y="770.8" width="2.4" height="2.0" fill="#1d5fbe"/>
<rect x="104.7" y="770.8" width="2.4" height="2.0" fill="#e3243a"/>
<rect x="107.4" y="770.8" width="2.4" height="2.0" fill="#1d5fbe"/>
<rect x="110.8" y="770.8" width="2.4" height="2.0" fill="#1d5fbe"/>
<rect x="163.4" y="770.8" width="2.4" height="2.0" fill="#1d5fbe"/>
<rect x="117.3" y="770.8" width="2.4" height="2.0" fill="#1d5fbe"/>
<rect x="186.4" y="770.8" width="2.4" height="2.0" fill="#1d5fbe"/>
<rect x="68.8" y="770.8" width="2.4" height="2.0" fill="#1d5fbe"/>
<rect x="154.7" y="770.8" width="2.4" height="2.0" fill="#e3243a"/>
<rect x="56.5" y="770.8" width="2.4" height="2.0" fill="#1d5fbe"/>
<rect x="188.2" y="770.8" width="2.4" height="2.0" fill="#e3243a"/>
<rect x="120.2" y="770.8" width="2.4" height="2.0" fill="#e3243a"/>
<rect x="78.7" y="770.8" width="2.4" height="2.0" fill="#1d5fbe"/>
<rect x="109.7" y="770.8" width="2.4" height="2.0" fill="#1d5fbe"/>
<rect x="156.6" y="770.8" width="2.4" height="2.0" fill="#1d5fbe"/>
<rect x="89.7" y="770.8" width="2.4" height="2.0" fill="#1d5fbe"/>
<rect x="68.3" y="770.8" width="2.4" height="2.0" fill="#1d5fbe"/>
<rect x="113.5" y="770.8" width="2.4" height="2.0" fill="#e3243a"/>
<rect x="33.9" y="770.8" width="2.4" height="2.0" fill="#e3243a"/>
<rect x="164.6" y="770.8" width="2.4" height="2.0" fill="#1d5fbe"/>
<rect x="113.9" y="770.8" width="2.4" height="2.0" fill="#1d5fbe"/>
<rect x="157.6" y="770.8" width="2.4" height="2.0" fill="#1d5fbe"/>
<rect x="149.7" y="770.8" width="2.4" height="2.0" fill="#e3243a"/>
<rect x="131.1" y="770.8" width="2.4" height="2.0" fill="#1d5fbe"/>
<rect x="165.5" y="770.8" width="2.4" height="2.0" fill="#e3243a"/>
<rect x="166.9" y="770.8" width="2.4" height="2.0" fill="#1d5fbe"/>
<line x1="27.3" x2="516.9" y1="776.0" y2="776.0" stroke="#111" stroke-width="1.5"/>
<line x1="28.3" x2="250.0" y1="887.2" y2="887.2" stroke="#f7ea1c" stroke-width="1.2"/>
<path d="M150.0 885.3H151.2V885.2H152.5V886.6H153.8V887.0H155.0V886.7H156.2V885.0H157.5V884.8H158.8V887.0H160.0V886.2H161.2V886.4H162.5V887.0H163.8V886.5H165.0V885.6H166.2V885.0H167.5V885.9H168.8V887.0H170.0V886.3H171.2V887.0H172.5V884.5H173.8V884.9H175.0V887.0H176.2V887.0H177.5V886.9H178.8V883.7H180.0V884.0H181.2V886.6H182.5V884.1H183.8V884.2H185.0V883.4H186.2V883.3H187.5V885.1H188.8V883.3H190.0V883.7H191.2V884.1H192.5V887.0H193.8V884.1H195.0V884.0H196.2V885.2H197.5V886.4H198.8V882.8H200.0V885.1H201.2V882.5H202.5V883.8H203.8V885.6H205.0V883.1H206.2V884.9H207.5V885.0H208.8V883.3H210.0V884.1H211.2V882.3H212.5V881.9H213.8V887.0H215.0V885.4H216.2V883.2H217.5V884.4H218.8V883.2H220.0V885.4H221.2V882.9H222.5V885.4H223.8V884.2H225.0V881.5H226.2V882.0H227.5V881.5H228.8V882.3H230.0V883.9H231.2V881.5H232.5V883.0H233.8V881.5H235.0V882.5H236.2V882.5H237.5V885.1H238.8V885.3H240.0V885.6H241.2V883.1H242.5V881.5H243.8V884.4H245.0V882.7H246.2V886.4H247.5V881.7H248.8V881.2H250.0V879.6H251.2V880.6H252.5V881.1H253.8V878.6H255.0V882.5H256.2V879.7H257.5V881.0H258.8V878.2H260.0V879.9H261.2V877.4H262.5V876.1H263.8V878.5H265.0V875.2H266.2V873.8H267.5V872.9H268.8V875.5H270.0V876.9H271.2V875.5H272.5V875.1H273.8V875.4H275.0V874.5H276.2V872.2H277.5V868.1H278.8V869.5H280.0V865.5H281.2V867.3H282.5V866.3H283.8V865.0H285.0V863.0H286.2V861.5H287.5V863.5H288.8V865.1H290.0V859.4H291.2V857.7H292.5V859.6H293.8V855.5H295.0V855.2H296.2V862.1H297.5V852.2H298.8V863.0H300.0V849.9H301.2V848.8H302.5V852.2H303.8V852.9H305.0V846.7H306.2V846.3H307.5V847.1H308.8V841.6H310.0V840.3H311.2V839.1H312.5V840.6H313.8V840.8H315.0V835.3H316.2V836.3H317.5V842.7H318.8V836.5H320.0V832.7H321.2V836.4H322.5V832.0H323.8V843.1H325.0V832.8H326.2V836.3H327.5V838.5H328.8V844.1H330.0V838.8H331.2V841.7H332.5V835.1H333.8V841.8H335.0V840.1H336.2V838.8H337.5V835.9H338.8V836.1H340.0V844.0H341.2V836.5H342.5V842.1H343.8V836.5H345.0V836.4H346.2V836.3H347.5V848.2H348.8V838.5H350.0V842.5H351.2V845.1H352.5V841.0H353.8V854.5H355.0V847.6H356.2V844.9H357.5V849.2H358.8V847.4H360.0V849.3H361.2V849.9H362.5V851.3H363.8V854.7H365.0V854.5H366.2V860.4H367.5V856.2H368.8V865.5H370.0V857.7H371.2V859.3H372.5V865.0H373.8V858.8H375.0V861.0H376.2V862.7H377.5V874.2H378.8V864.1H380.0V863.5H381.2V864.3H382.5V865.2H383.8V869.1H385.0V865.9H386.2V869.4H387.5V869.4H388.8V868.0H390.0V874.7H391.2V871.8H392.5V867.8H393.8V874.7H395.0V870.6H396.2V874.0H397.5V869.9H398.8V870.1H400.0V870.5H401.2V875.7H402.5V877.4H403.8V875.5H405.0V872.6H406.2V872.0H407.5V872.3H408.8V873.1H410.0V872.8H411.2V873.0H412.5V876.4H413.8V873.5H415.0V878.2H416.2V874.9H417.5V876.9H418.8V876.3H420.0V874.8H421.2V875.1H422.5V877.8H423.8V880.1H425.0V876.6H426.2V876.6H427.5V879.4H428.8V878.6H430.0V878.6H431.2V879.3H432.5V880.9H433.8V878.9H435.0V880.2H436.2V882.2H437.5V886.8H438.8V880.6H440.0V883.2H441.2V881.8H442.5V885.2H443.8V883.6H445.0V884.3H446.2V882.6H447.5V887.0H448.8V883.4H450.0V886.7H451.2V882.5H452.5V883.0H453.8V883.9H455.0V883.2H456.2V884.3H457.5V885.5H458.8V886.6H460.0V886.2H461.2V885.4H462.5V884.3H463.8V884.7H465.0V885.4H466.2V887.0H467.5V884.7H468.8V884.6H470.0V884.8H471.2V887.0H472.5V887.0H473.8V887.0H475.0V886.3H476.2V887.0H477.5V887.0H478.8V887.0H480.0" fill="none" stroke="#f7ea1c" stroke-width="2.0" stroke-linejoin="miter"/>
<path d="M150.0 886.4H151.2V885.8H152.5V885.8H153.8V885.8H155.0V886.7H156.2V887.0H157.5V887.4H158.8V886.3H160.0V886.7H161.2V886.0H162.5V886.4H163.8V886.8H165.0V885.7H166.2V885.7H167.5V887.2H168.8V886.0H170.0V885.7H171.2V886.3H172.5V887.4H173.8V887.0H175.0V885.7H176.2V887.0H177.5V885.7H178.8V885.9H180.0V887.0H181.2V885.7H182.5V886.9H183.8V887.0H185.0V887.4H186.2V885.6H187.5V887.4H188.8V886.0H190.0V887.4H191.2V887.4H192.5V887.4H193.8V886.2H195.0V887.4H196.2V886.8H197.5V886.8H198.8V887.2H200.0V887.4H201.2V887.4H202.5V887.3H203.8V885.6H205.0V886.9H206.2V885.6H207.5V887.4H208.8V887.4H210.0V887.4H211.2V887.4H212.5V887.4H213.8V887.4H215.0V887.4H216.2V885.8H217.5V885.5H218.8V885.3H220.0V887.1H221.2V886.9H222.5V887.4H223.8V885.3H225.0V885.1H226.2V887.4H227.5V885.1H228.8V886.3H230.0V885.8H231.2V884.9H232.5V884.8H233.8V887.4H235.0V884.7H236.2V884.8H237.5V887.4H238.8V884.5H240.0V887.2H241.2V885.8H242.5V887.4H243.8V886.9H245.0V887.4H246.2V885.6H247.5V884.0H248.8V885.1H250.0V886.5H251.2V885.3H252.5V884.4H253.8V883.9H255.0V885.7H256.2V884.3H257.5V883.5H258.8V884.7H260.0V885.2H261.2V883.5H262.5V887.1H263.8V883.1H265.0V885.9H266.2V884.6H267.5V886.9H268.8V883.9H270.0V886.9H271.2V882.8H272.5V884.4H273.8V883.3H275.0V885.0H276.2V886.3H277.5V885.0H278.8V882.4H280.0V882.5H281.2V884.3H282.5V882.2H283.8V884.6H285.0V882.1H286.2V882.0H287.5V884.5H288.8V882.6H290.0V882.2H291.2V883.9H292.5V881.7H293.8V881.6H295.0V881.4H296.2V884.4H297.5V883.4H298.8V880.5H300.0V880.1H301.2V884.6H302.5V880.2H303.8V880.2H305.0V881.5H306.2V879.0H307.5V880.1H308.8V877.5H310.0V879.5H311.2V881.6H312.5V879.9H313.8V873.7H315.0V875.9H316.2V876.4H317.5V873.9H318.8V869.6H320.0V870.3H321.2V867.5H322.5V866.2H323.8V866.4H325.0V868.8H326.2V866.1H327.5V861.5H328.8V863.6H330.0V859.3H331.2V865.2H332.5V859.1H333.8V855.7H335.0V856.1H336.2V847.3H337.5V852.2H338.8V842.2H340.0V843.1H341.2V844.0H342.5V844.7H343.8V836.4H345.0V837.8H346.2V831.0H347.5V840.8H348.8V832.1H350.0V831.8H351.2V828.2H352.5V832.5H353.8V824.7H355.0V840.5H356.2V830.8H357.5V825.4H358.8V816.5H360.0V821.5H361.2V830.2H362.5V825.6H363.8V822.5H365.0V824.3H366.2V824.7H367.5V824.5H368.8V823.4H370.0V822.2H371.2V818.1H372.5V824.0H373.8V828.1H375.0V822.1H376.2V825.5H377.5V827.8H378.8V831.4H380.0V832.3H381.2V835.5H382.5V833.8H383.8V831.8H385.0V833.7H386.2V841.3H387.5V837.5H388.8V850.4H390.0V841.3H391.2V843.8H392.5V848.3H393.8V852.8H395.0V856.8H396.2V855.5H397.5V855.7H398.8V860.1H400.0V862.7H401.2V861.9H402.5V860.1H403.8V860.7H405.0V862.9H406.2V865.5H407.5V864.6H408.8V864.6H410.0V865.9H411.2V871.5H412.5V868.8H413.8V869.6H415.0V878.7H416.2V871.3H417.5V875.7H418.8V874.2H420.0V877.0H421.2V879.8H422.5V876.7H423.8V877.9H425.0V882.1H426.2V878.8H427.5V878.3H428.8V882.0H430.0V879.2H431.2V879.5H432.5V882.3H433.8V884.5H435.0V884.4H436.2V885.3H437.5V885.0H438.8V884.5H440.0V885.3H441.2V883.6H442.5V885.2H443.8V885.4H445.0V886.2H446.2V884.9H447.5V885.0H448.8V887.2H450.0V884.0H451.2V885.3H452.5V887.4H453.8V886.2H455.0V885.1H456.2V886.8H457.5V887.4H458.8V885.1H460.0V885.2H461.2V885.2H462.5V887.4H463.8V887.4H465.0V887.4H466.2V886.8H467.5V886.6H468.8V887.2H470.0V887.4H471.2V887.4H472.5V886.1H473.8V886.6H475.0V886.4H476.2V886.1H477.5V887.3H478.8V886.2H480.0V886.2H481.2V886.7H482.5V886.8H483.8V886.6H485.0V886.2H486.2V886.3H487.5V887.4H488.8V887.4H490.0V886.4H491.2V887.4H492.5V887.4H493.8V887.4H495.0" fill="none" stroke="#e3243a" stroke-width="2.0" stroke-linejoin="miter"/>
<path d="M150.0 886.5H151.2V885.2H152.5V885.2H153.8V887.0H155.0V885.9H156.2V887.0H157.5V887.0H158.8V887.0H160.0V887.0H161.2V886.9H162.5V887.0H163.8V887.0H165.0V886.7H166.2V886.4H167.5V884.8H168.8V887.0H170.0V887.0H171.2V885.3H172.5V885.5H173.8V886.5H175.0V886.3H176.2V884.6H177.5V884.5H178.8V886.5H180.0V885.2H181.2V886.4H182.5V887.0H183.8V887.0H185.0V884.3H186.2V887.0H187.5V884.3H188.8V886.2H190.0V884.6H191.2V885.0H192.5V885.8H193.8V887.0H195.0V884.0H196.2V887.0H197.5V887.0H198.8V884.0H200.0V886.0H201.2V883.5H202.5V884.7H203.8V886.6H205.0V886.2H206.2V887.0H207.5V884.9H208.8V884.5H210.0V886.7H211.2V885.4H212.5V886.9H213.8V884.9H215.0V885.4H216.2V887.0H217.5V883.9H218.8V884.1H220.0V886.4H221.2V884.7H222.5V886.3H223.8V887.0H225.0V882.0H226.2V884.9H227.5V885.7H228.8V881.3H230.0V882.1H231.2V883.6H232.5V881.3H233.8V880.8H235.0V882.5H236.2V884.5H237.5V883.2H238.8V882.8H240.0V881.4H241.2V877.9H242.5V877.6H243.8V877.2H245.0V880.0H246.2V882.4H247.5V879.7H248.8V876.0H250.0V876.4H251.2V880.0H252.5V874.2H253.8V875.3H255.0V876.2H256.2V874.4H257.5V874.5H258.8V868.3H260.0V868.0H261.2V866.9H262.5V868.8H263.8V865.0H265.0V865.2H266.2V863.7H267.5V863.0H268.8V864.9H270.0V864.6H271.2V859.9H272.5V859.4H273.8V853.4H275.0V858.8H276.2V850.1H277.5V858.4H278.8V846.7H280.0V853.3H281.2V843.4H282.5V845.8H283.8V840.0H285.0V839.7H286.2V838.9H287.5V839.0H288.8V841.5H290.0V843.5H291.2V842.3H292.5V841.8H293.8V829.6H295.0V838.0H296.2V827.1H297.5V825.6H298.8V824.1H300.0V822.5H301.2V821.0H302.5V824.1H303.8V826.5H305.0V819.4H306.2V819.1H307.5V812.9H308.8V812.7H310.0V814.0H311.2V811.9H312.5V805.4H313.8V816.2H315.0V806.1H316.2V816.4H317.5V820.4H318.8V809.7H320.0V815.2H321.2V813.5H322.5V815.3H323.8V811.2H325.0V819.1H326.2V824.3H327.5V820.6H328.8V820.9H330.0V823.4H331.2V825.8H332.5V830.6H333.8V832.1H335.0V833.1H336.2V834.6H337.5V845.5H338.8V859.1H340.0V856.1H341.2V851.8H342.5V855.8H343.8V863.7H345.0V862.0H346.2V865.9H347.5V864.8H348.8V871.9H350.0V867.3H351.2V873.4H352.5V875.3H353.8V877.7H355.0V877.4H356.2V877.1H357.5V877.0H358.8V882.1H360.0V880.5H361.2V878.5H362.5V879.4H363.8V883.4H365.0V882.9H366.2V881.1H367.5V880.0H368.8V881.8H370.0V882.3H371.2V885.7H372.5V880.9H373.8V884.9H375.0V881.7H376.2V881.8H377.5V882.6H378.8V884.5H380.0V883.6H381.2V882.3H382.5V882.4H383.8V882.6H385.0V887.0H386.2V882.8H387.5V884.0H388.8V887.0H390.0V885.1H391.2V885.6H392.5V883.4H393.8V886.4H395.0V886.5H396.2V886.5H397.5V887.0H398.8V884.1H400.0V884.6H401.2V883.7H402.5V886.2H403.8V885.3H405.0V886.7H406.2V887.0H407.5V883.9H408.8V886.9H410.0V886.8H411.2V884.1H412.5V884.6H413.8V887.0H415.0V887.0H416.2V884.2H417.5V885.1H418.8V884.3H420.0V886.2H421.2V884.4H422.5V885.8H423.8V886.8H425.0V884.5H426.2V885.2H427.5V885.9H428.8V884.6H430.0V887.0H431.2V886.6H432.5V887.0H433.8V887.0H435.0V886.7H436.2V886.0H437.5V884.9H438.8V887.0H440.0V885.9H441.2V885.1H442.5V885.8H443.8V885.2H445.0V887.0H446.2V887.0H447.5V887.0H448.8V887.0H450.0V885.4H451.2V887.0H452.5V886.6H453.8V885.6H455.0V886.9H456.2V885.8H457.5V887.0H458.8V885.8H460.0" fill="none" stroke="#1d5fbe" stroke-width="2.0" stroke-linejoin="miter"/>
<rect x="184.7" y="885.7" width="2.4" height="2.0" fill="#1d5fbe"/>
<rect x="64.8" y="885.7" width="2.4" height="2.0" fill="#f7ea1c"/>
<rect x="52.4" y="885.7" width="2.4" height="2.0" fill="#1d5fbe"/>
<rect x="168.8" y="885.7" width="2.4" height="2.0" fill="#f7ea1c"/>
<rect x="226.6" y="885.7" width="2.4" height="2.0" fill="#f7ea1c"/>
<rect x="165.1" y="885.7" width="2.4" height="2.0" fill="#1d5fbe"/>
<rect x="41.9" y="885.7" width="2.4" height="2.0" fill="#1d5fbe"/>
<rect x="60.7" y="885.7" width="2.4" height="2.0" fill="#e3243a"/>
<rect x="100.2" y="885.7" width="2.4" height="2.0" fill="#1d5fbe"/>
<rect x="60.9" y="885.7" width="2.4" height="2.0" fill="#1d5fbe"/>
<rect x="129.5" y="885.7" width="2.4" height="2.0" fill="#f7ea1c"/>
<rect x="160.5" y="885.7" width="2.4" height="2.0" fill="#f7ea1c"/>
<rect x="148.2" y="885.7" width="2.4" height="2.0" fill="#1d5fbe"/>
<rect x="121.4" y="885.7" width="2.4" height="2.0" fill="#1d5fbe"/>
<rect x="122.5" y="885.7" width="2.4" height="2.0" fill="#f7ea1c"/>
<rect x="198.7" y="885.7" width="2.4" height="2.0" fill="#1d5fbe"/>
<rect x="50.4" y="885.7" width="2.4" height="2.0" fill="#1d5fbe"/>
<rect x="156.0" y="885.7" width="2.4" height="2.0" fill="#e3243a"/>
<rect x="41.9" y="885.7" width="2.4" height="2.0" fill="#e3243a"/>
<rect x="221.1" y="885.7" width="2.4" height="2.0" fill="#f7ea1c"/>
<rect x="128.8" y="885.7" width="2.4" height="2.0" fill="#1d5fbe"/>
<rect x="162.3" y="885.7" width="2.4" height="2.0" fill="#f7ea1c"/>
<rect x="197.2" y="885.7" width="2.4" height="2.0" fill="#1d5fbe"/>
<rect x="132.1" y="885.7" width="2.4" height="2.0" fill="#1d5fbe"/>
<rect x="191.4" y="885.7" width="2.4" height="2.0" fill="#1d5fbe"/>
<rect x="78.5" y="885.7" width="2.4" height="2.0" fill="#f7ea1c"/>
<rect x="76.9" y="885.7" width="2.4" height="2.0" fill="#1d5fbe"/>
<rect x="153.5" y="885.7" width="2.4" height="2.0" fill="#e3243a"/>
<rect x="86.4" y="885.7" width="2.4" height="2.0" fill="#1d5fbe"/>
<rect x="183.5" y="885.7" width="2.4" height="2.0" fill="#e3243a"/>
<rect x="156.0" y="885.7" width="2.4" height="2.0" fill="#f7ea1c"/>
<rect x="37.9" y="885.7" width="2.4" height="2.0" fill="#e3243a"/>
<rect x="57.6" y="885.7" width="2.4" height="2.0" fill="#f7ea1c"/>
<rect x="80.1" y="885.7" width="2.4" height="2.0" fill="#1d5fbe"/>
<rect x="93.7" y="885.7" width="2.4" height="2.0" fill="#e3243a"/>
<rect x="86.2" y="885.7" width="2.4" height="2.0" fill="#1d5fbe"/>
<rect x="198.8" y="885.7" width="2.4" height="2.0" fill="#1d5fbe"/>
<rect x="164.2" y="885.7" width="2.4" height="2.0" fill="#e3243a"/>
<rect x="36.4" y="885.7" width="2.4" height="2.0" fill="#e3243a"/>
<rect x="229.8" y="885.7" width="2.4" height="2.0" fill="#f7ea1c"/>
<rect x="157.1" y="885.7" width="2.4" height="2.0" fill="#1d5fbe"/>
<rect x="54.3" y="885.7" width="2.4" height="2.0" fill="#1d5fbe"/>
<rect x="176.0" y="885.7" width="2.4" height="2.0" fill="#f7ea1c"/>
<rect x="180.1" y="885.7" width="2.4" height="2.0" fill="#1d5fbe"/>
<rect x="222.1" y="885.7" width="2.4" height="2.0" fill="#1d5fbe"/>
<line x1="27.3" x2="514.5" y1="889.0" y2="889.0" stroke="#111" stroke-width="2.2"/>
<path d="M140.0 1018.8H141.2V1017.3H142.5V1018.8H143.8V1018.3H145.0V1018.8H146.2V1018.8H147.5V1018.8H148.8V1018.7H150.0V1018.5H151.2V1017.1H152.5V1018.8H153.8V1018.4H155.0V1018.8H156.2V1018.8H157.5V1017.2H158.8V1017.3H160.0V1017.0H161.2V1017.1H162.5V1017.4H163.8V1016.9H165.0V1016.9H166.2V1018.8H167.5V1018.2H168.8V1018.8H170.0V1018.8H171.2V1016.8H172.5V1016.8H173.8V1017.1H175.0V1018.4H176.2V1018.8H177.5V1017.4H178.8V1018.8H180.0V1016.6H181.2V1018.1H182.5V1017.3H183.8V1017.4H185.0V1017.8H186.2V1018.3H187.5V1018.3H188.8V1018.1H190.0V1017.5H191.2V1018.8H192.5V1016.4H193.8V1017.2H195.0V1016.4H196.2V1016.4H197.5V1018.8H198.8V1017.0H200.0V1017.5H201.2V1017.1H202.5V1016.3H203.8V1018.7H205.0V1016.4H206.2V1016.1H207.5V1018.8H208.8V1018.3H210.0V1018.0H211.2V1016.3H212.5V1016.7H213.8V1016.3H215.0V1016.3H216.2V1017.1H217.5V1017.7H218.8V1017.6H220.0V1018.8H221.2V1017.9H222.5V1018.0H223.8V1016.2H225.0V1016.2H226.2V1018.8H227.5V1016.3H228.8V1016.2H230.0V1017.1H231.2V1018.1H232.5V1016.2H233.8V1016.6H235.0V1016.2H236.2V1018.4H237.5V1016.6H238.8V1016.2H240.0V1016.1H241.2V1015.2H242.5V1015.5H243.8V1017.6H245.0V1015.2H246.2V1013.9H247.5V1017.1H248.8V1013.6H250.0V1010.8H251.2V1012.7H252.5V1009.1H253.8V1010.1H255.0V1010.6H256.2V1007.9H257.5V1007.9H258.8V1008.3H260.0V1003.9H261.2V1002.6H262.5V1002.6H263.8V1006.4H265.0V1000.1H266.2V1010.1H267.5V1004.6H268.8V997.3H270.0V997.9H271.2V995.6H272.5V996.8H273.8V996.1H275.0V999.9H276.2V994.5H277.5V992.6H278.8V997.7H280.0V990.9H281.2V990.2H282.5V991.0H283.8V995.3H285.0V988.5H286.2V990.9H287.5V986.7H288.8V987.2H290.0V985.0H291.2V984.2H292.5V983.3H293.8V984.4H295.0V987.2H296.2V985.8H297.5V985.1H298.8V987.2H300.0V975.4H301.2V976.5H302.5V979.0H303.8V981.9H305.0V982.8H306.2V979.3H307.5V981.2H308.8V984.1H310.0V981.2H311.2V983.0H312.5V995.9H313.8V985.5H315.0V986.5H316.2V987.5H317.5V989.7H318.8V996.5H320.0V989.2H321.2V991.7H322.5V998.8H323.8V992.5H325.0V996.3H326.2V997.3H327.5V993.2H328.8V995.8H330.0V991.4H331.2V994.9H332.5V992.9H333.8V992.6H335.0V1002.0H336.2V996.9H337.5V998.2H338.8V999.1H340.0V1001.2H341.2V1000.8H342.5V1000.7H343.8V1002.1H345.0V1003.4H346.2V1003.5H347.5V1002.0H348.8V1001.2H350.0V1008.0H351.2V1003.7H352.5V1000.3H353.8V1009.3H355.0V1002.6H356.2V1001.5H357.5V1007.6H358.8V1004.1H360.0V1003.9H361.2V1009.0H362.5V1003.6H363.8V1008.5H365.0V1005.3H366.2V1004.8H367.5V1005.2H368.8V1011.3H370.0V1005.5H371.2V1007.3H372.5V1006.0H373.8V1008.5H375.0V1009.1H376.2V1003.6H377.5V1004.7H378.8V1002.0H380.0V1005.9H381.2V1005.0H382.5V1003.8H383.8V1000.0H385.0V1000.9H386.2V1008.0H387.5V1009.7H388.8V1002.0H390.0V1002.5H391.2V1003.7H392.5V1005.7H393.8V1006.9H395.0V1005.3H396.2V1007.0H397.5V1011.8H398.8V1005.9H400.0V1009.6H401.2V1008.9H402.5V1013.0H403.8V1007.5H405.0V1007.2H406.2V1010.1H407.5V1010.0H408.8V1011.2H410.0V1011.2H411.2V1009.2H412.5V1009.1H413.8V1015.8H415.0V1009.0H416.2V1013.2H417.5V1009.8H418.8V1009.3H420.0V1009.4H421.2V1013.7H422.5V1010.9H423.8V1014.7H425.0V1014.1H426.2V1010.6H427.5V1010.9H428.8V1012.1H430.0V1010.8H431.2V1012.6H432.5V1012.6H433.8V1014.0H435.0V1011.8H436.2V1016.0H437.5V1014.1H438.8V1016.5H440.0V1014.7H441.2V1015.1H442.5V1015.3H443.8V1014.3H445.0V1014.1H446.2V1016.0H447.5V1014.4H448.8V1013.9H450.0V1014.1H451.2V1017.2H452.5V1015.8H453.8V1016.9H455.0V1017.0H456.2V1016.9H457.5V1017.3H458.8V1016.9H460.0V1015.8H461.2V1017.6H462.5V1015.3H463.8V1015.9H465.0V1016.0H466.2V1015.7H467.5V1015.8H468.8V1015.9H470.0V1016.8H471.2" fill="none" stroke="#f7ea1c" stroke-width="2.0" stroke-linejoin="miter"/>
<path d="M140.0 1017.6H141.2V1017.3H142.5V1018.8H143.8V1018.5H145.0V1018.4H146.2V1018.3H147.5V1018.8H148.8V1018.3H150.0V1017.6H151.2V1017.1H152.5V1017.5H153.8V1018.2H155.0V1018.8H156.2V1018.1H157.5V1018.2H158.8V1017.0H160.0V1018.8H161.2V1018.8H162.5V1018.8H163.8V1016.9H165.0V1016.9H166.2V1017.9H167.5V1018.8H168.8V1018.8H170.0V1018.7H171.2V1018.8H172.5V1018.8H173.8V1017.6H175.0V1018.8H176.2V1018.8H177.5V1017.3H178.8V1016.7H180.0V1018.7H181.2V1016.6H182.5V1016.9H183.8V1016.6H185.0V1018.4H186.2V1016.9H187.5V1018.5H188.8V1018.6H190.0V1016.5H191.2V1018.8H192.5V1017.6H193.8V1018.8H195.0V1018.8H196.2V1018.0H197.5V1018.8H198.8V1016.3H200.0V1018.7H201.2V1017.1H202.5V1016.8H203.8V1016.5H205.0V1017.5H206.2V1018.0H207.5V1016.3H208.8V1018.8H210.0V1016.3H211.2V1017.7H212.5V1016.9H213.8V1017.0H215.0V1016.3H216.2V1018.7H217.5V1016.7H218.8V1018.8H220.0V1018.8H221.2V1017.9H222.5V1018.8H223.8V1016.9H225.0V1017.2H226.2V1016.2H227.5V1018.8H228.8V1017.6H230.0V1016.2H231.2V1018.6H232.5V1017.4H233.8V1017.0H235.0V1016.2H236.2V1018.8H237.5V1018.5H238.8V1017.1H240.0V1016.2H241.2V1018.8H242.5V1017.6H243.8V1018.2H245.0V1014.9H246.2V1016.9H247.5V1013.4H248.8V1013.2H250.0V1012.3H251.2V1011.5H252.5V1015.2H253.8V1013.2H255.0V1011.7H256.2V1011.5H257.5V1009.8H258.8V1012.1H260.0V1011.9H261.2V1014.4H262.5V1005.5H263.8V1012.1H265.0V1004.6H266.2V1004.2H267.5V1000.2H268.8V999.4H270.0V1003.9H271.2V997.5H272.5V998.0H273.8V996.0H275.0V998.1H276.2V995.0H277.5V992.7H278.8V992.9H280.0V989.4H281.2V991.4H282.5V987.4H283.8V992.7H285.0V989.8H286.2V982.7H287.5V980.4H288.8V979.4H290.0V985.5H291.2V976.1H292.5V981.6H293.8V976.9H295.0V978.5H296.2V972.5H297.5V970.7H298.8V971.6H300.0V971.2H301.2V967.8H302.5V960.1H303.8V957.5H305.0V957.1H306.2V963.0H307.5V956.7H308.8V957.2H310.0V966.2H311.2V965.5H312.5V954.9H313.8V958.7H315.0V951.2H316.2V953.4H317.5V961.2H318.8V957.8H320.0V960.8H321.2V961.1H322.5V968.6H323.8V958.0H325.0V956.5H326.2V955.0H327.5V953.9H328.8V953.9H330.0V955.9H331.2V954.2H332.5V967.1H333.8V962.3H335.0V973.6H336.2V983.3H337.5V979.6H338.8V981.1H340.0V982.6H341.2V993.8H342.5V989.1H343.8V985.7H345.0V988.3H346.2V987.9H347.5V991.3H348.8V989.0H350.0V996.2H351.2V995.4H352.5V1002.4H353.8V999.1H355.0V995.2H356.2V999.2H357.5V998.9H358.8V997.1H360.0V1001.6H361.2V999.1H362.5V1006.7H363.8V1000.8H365.0V1003.8H366.2V1004.7H367.5V1012.7H368.8V1010.1H370.0V1008.7H371.2V1009.5H372.5V1010.4H373.8V1010.2H375.0V1015.2H376.2V1009.0H377.5V1011.8H378.8V1011.6H380.0V1008.7H381.2V1008.7H382.5V1008.7H383.8V1011.0H385.0V1010.2H386.2V1011.0H387.5V1009.9H388.8V1013.7H390.0V1012.1H391.2V1013.2H392.5V1014.8H393.8V1011.8H395.0V1015.3H396.2V1012.6H397.5V1014.0H398.8V1018.3H400.0V1014.1H401.2V1015.4H402.5V1016.7H403.8V1016.7H405.0V1017.4H406.2V1018.8H407.5V1017.6H408.8V1017.5H410.0V1018.6H411.2V1017.3H412.5V1017.9H413.8V1017.5H415.0V1017.0H416.2V1016.9H417.5V1018.3H418.8V1016.7H420.0V1017.0H421.2V1018.0H422.5V1017.5H423.8V1017.0H425.0V1016.3H426.2V1016.6H427.5V1018.7H428.8" fill="none" stroke="#e3243a" stroke-width="2.0" stroke-linejoin="miter"/>
<path d="M200.0 1018.8H201.2V1018.0H202.5V1018.8H203.8V1018.8H205.0V1018.8H206.2V1018.5H207.5V1018.8H208.8V1018.8H210.0V1018.0H211.2V1018.8H212.5V1018.2H213.8V1018.8H215.0V1018.8H216.2V1018.8H217.5V1018.1H218.8V1018.4H220.0V1018.8H221.2V1018.8H222.5V1018.8H223.8V1018.8H225.0V1018.8H226.2V1018.8H227.5V1018.0H228.8V1017.9H230.0V1017.9H231.2V1018.5H232.5V1018.8H233.8V1018.4H235.0V1018.8H236.2V1018.8H237.5V1017.9H238.8V1018.4H240.0V1018.8H241.2V1018.8H242.5V1018.5H243.8V1018.8H245.0V1018.6H246.2V1018.8H247.5V1017.9H248.8V1018.4H250.0V1018.8H251.2V1017.8H252.5V1017.9H253.8V1018.5H255.0V1017.9H256.2V1018.8H257.5V1018.8H258.8V1017.9H260.0V1018.8H261.2V1018.8H262.5V1018.8H263.8V1018.8H265.0V1018.8H266.2V1018.1H267.5V1018.8H268.8V1018.1H270.0V1017.9H271.2V1017.9H272.5V1018.8H273.8V1018.8H275.0V1017.9H276.2V1018.3H277.5V1018.8H278.8V1018.8H280.0V1017.9H281.2V1018.3H282.5V1018.3H283.8V1017.9H285.0V1018.8H286.2V1018.8H287.5V1018.8H288.8V1018.8H290.0V1018.6H291.2V1017.9H292.5V1018.8H293.8V1018.8H295.0V1018.0H296.2V1018.8H297.5V1018.8H298.8V1018.8H300.0V1017.9H301.2V1017.7H302.5V1018.4H303.8V1018.8H305.0V1016.6H306.2V1018.6H307.5V1014.5H308.8V1016.6H310.0V1018.8H311.2V1014.3H312.5V1014.0H313.8V1015.1H315.0V1011.9H316.2V1014.7H317.5V1011.5H318.8V1010.7H320.0V1010.8H321.2V1009.0H322.5V1009.6H323.8V1007.7H325.0V1012.3H326.2V1008.1H327.5V1007.0H328.8V1009.4H330.0V1005.6H331.2V1002.0H332.5V1003.6H333.8V1005.4H335.0V1003.5H336.2V999.8H337.5V1001.6H338.8V997.0H340.0V997.9H341.2V1003.6H342.5V997.1H343.8V995.4H345.0V997.8H346.2V995.3H347.5V995.0H348.8V993.4H350.0V992.8H351.2V992.5H352.5V992.1H353.8V995.1H355.0V994.1H356.2V991.2H357.5V991.4H358.8V992.0H360.0V990.7H361.2V999.6H362.5V995.7H363.8V992.6H365.0V993.2H366.2V989.9H367.5V994.9H368.8V986.9H370.0V992.8H371.2V997.7H372.5V998.7H373.8V995.7H375.0V999.1H376.2V1000.1H377.5V1000.3H378.8V996.7H380.0V996.0H381.2V1002.1H382.5V998.1H383.8V998.9H385.0V994.2H386.2V994.4H387.5V998.0H388.8V995.5H390.0V1000.4H391.2V1001.9H392.5V1000.2H393.8V1004.0H395.0V1000.5H396.2V1001.7H397.5V1004.0H398.8V1003.4H400.0V1012.0H401.2V1007.1H402.5V1013.1H403.8V1011.8H405.0V1009.4H406.2V1013.9H407.5V1016.6H408.8V1012.6H410.0V1013.8H411.2V1011.8H412.5V1012.1H413.8V1013.9H415.0V1013.6H416.2V1015.2H417.5V1015.6H418.8V1015.7H420.0V1013.8H421.2V1015.8H422.5V1014.1H423.8V1014.8H425.0V1016.8H426.2V1016.2H427.5V1015.7H428.8V1016.1H430.0V1016.7H431.2V1014.0H432.5V1017.3H433.8V1013.8H435.0V1013.7H436.2V1013.4H437.5V1015.9H438.8V1014.5H440.0V1016.1H441.2V1015.1H442.5V1017.8H443.8V1017.9H445.0V1018.0H446.2V1017.4H447.5V1018.8H448.8V1017.7H450.0V1016.6H451.2V1018.8H452.5V1018.6H453.8V1018.1H455.0V1017.7H456.2V1018.8H457.5V1018.6H458.8V1018.2H460.0V1017.5H461.2V1018.8H462.5" fill="none" stroke="#1d5fbe" stroke-width="2.0" stroke-linejoin="miter"/>
<rect x="76.2" y="1016.4" width="2.4" height="2.0" fill="#e3243a"/>
<rect x="171.2" y="1016.4" width="2.4" height="2.0" fill="#1d5fbe"/>
<rect x="32.0" y="1016.4" width="2.4" height="2.0" fill="#f7ea1c"/>
<rect x="235.7" y="1016.4" width="2.4" height="2.0" fill="#e3243a"/>
<rect x="145.3" y="1016.4" width="2.4" height="2.0" fill="#f7ea1c"/>
<rect x="206.3" y="1016.4" width="2.4" height="2.0" fill="#f7ea1c"/>
<rect x="119.4" y="1016.4" width="2.4" height="2.0" fill="#e3243a"/>
<rect x="66.5" y="1016.4" width="2.4" height="2.0" fill="#1d5fbe"/>
<rect x="198.0" y="1016.4" width="2.4" height="2.0" fill="#f7ea1c"/>
<rect x="160.1" y="1016.4" width="2.4" height="2.0" fill="#e3243a"/>
<rect x="81.8" y="1016.4" width="2.4" height="2.0" fill="#e3243a"/>
<rect x="90.1" y="1016.4" width="2.4" height="2.0" fill="#1d5fbe"/>
<rect x="204.1" y="1016.4" width="2.4" height="2.0" fill="#e3243a"/>
<rect x="34.0" y="1016.4" width="2.4" height="2.0" fill="#1d5fbe"/>
<line x1="26.6" x2="516.0" y1="1019.6" y2="1019.6" stroke="#111" stroke-width="1.6"/>
<line x1="32.3" x2="515.4" y1="1145.2" y2="1145.2" stroke="#111" stroke-width="1.6"/>
<path d="M150.0 1143.8H151.2V1144.7H152.5V1143.9H153.8V1142.8H155.0V1144.4H156.2V1143.7H157.5V1144.7H158.8V1143.5H160.0V1144.7H161.2V1142.6H162.5V1143.4H163.8V1144.6H165.0V1142.9H166.2V1142.5H167.5V1143.4H168.8V1142.5H170.0V1144.7H171.2V1142.4H172.5V1142.7H173.8V1144.7H175.0V1142.4H176.2V1142.3H177.5V1144.7H178.8V1144.7H180.0V1142.6H181.2V1142.2H182.5V1142.0H183.8V1143.8H185.0V1144.3H186.2V1142.1H187.5V1143.9H188.8V1144.7H190.0V1142.8H191.2V1143.9H192.5V1143.5H193.8V1142.0H195.0V1144.1H196.2V1143.1H197.5V1141.9H198.8V1143.8H200.0V1144.2H201.2V1143.6H202.5V1144.7H203.8V1144.7H205.0V1143.6H206.2V1142.9H207.5V1141.7H208.8V1141.7H210.0V1143.0H211.2V1141.7H212.5V1143.6H213.8V1142.3H215.0V1142.7H216.2V1141.3H217.5V1144.0H218.8V1141.6H220.0V1141.0H221.2V1143.3H222.5V1141.9H223.8V1138.5H225.0V1136.8H226.2V1139.7H227.5V1140.5H228.8V1137.1H230.0V1135.6H231.2V1133.5H232.5V1134.4H233.8V1133.1H235.0V1131.6H236.2V1134.9H237.5V1131.9H238.8V1129.8H240.0V1130.6H241.2V1128.9H242.5V1127.9H243.8V1127.2H245.0V1129.0H246.2V1126.0H247.5V1130.2H248.8V1134.1H250.0V1124.5H251.2V1129.9H252.5V1127.1H253.8V1124.0H255.0V1123.1H256.2V1123.8H257.5V1125.8H258.8V1123.5H260.0V1121.2H261.2V1120.6H262.5V1120.2H263.8V1123.3H265.0V1119.2H266.2V1122.7H267.5V1119.3H268.8V1119.9H270.0V1121.8H271.2V1119.8H272.5V1113.2H273.8V1112.3H275.0V1111.3H276.2V1110.0H277.5V1112.3H278.8V1107.5H280.0V1107.8H281.2V1105.3H282.5V1103.7H283.8V1102.7H285.0V1106.8H286.2V1109.4H287.5V1102.1H288.8V1099.3H290.0V1108.6H291.2V1104.0H292.5V1102.2H293.8V1100.8H295.0V1097.4H296.2V1097.9H297.5V1091.3H298.8V1098.7H300.0V1091.1H301.2V1097.1H302.5V1089.3H303.8V1092.3H305.0V1087.6H306.2V1095.9H307.5V1085.9H308.8V1087.7H310.0V1090.8H311.2V1083.4H312.5V1082.5H313.8V1090.1H315.0V1088.0H316.2V1083.8H317.5V1084.0H318.8V1078.7H320.0V1077.4H321.2V1080.2H322.5V1077.6H323.8V1072.9H325.0V1080.2H326.2V1070.2H327.5V1080.9H328.8V1070.1H330.0V1070.6H331.2V1071.1H332.5V1063.8H333.8V1064.5H335.0V1064.4H336.2V1069.1H337.5V1069.5H338.8V1079.9H340.0V1076.7H341.2V1086.7H342.5V1079.9H343.8V1076.6H345.0V1081.5H346.2V1081.5H347.5V1079.3H348.8V1085.2H350.0V1080.9H351.2V1086.4H352.5V1080.5H353.8V1084.4H355.0V1086.7H356.2V1088.3H357.5V1089.6H358.8V1098.7H360.0V1091.7H361.2V1091.7H362.5V1095.6H363.8V1091.9H365.0V1093.5H366.2V1097.3H367.5V1105.4H368.8V1108.1H370.0V1102.6H371.2V1108.1H372.5V1109.4H373.8V1116.1H375.0V1110.1H376.2V1113.3H377.5V1120.0H378.8V1111.9H380.0V1118.9H381.2V1123.5H382.5V1122.0H383.8V1121.8H385.0V1121.6H386.2V1118.7H387.5V1120.1H388.8V1128.2H390.0V1121.3H391.2V1129.2H392.5V1123.8H393.8V1125.1H395.0V1129.3H396.2V1128.4H397.5V1130.8H398.8V1132.7H400.0V1131.2H401.2V1132.2H402.5V1135.3H403.8V1134.4H405.0V1135.4H406.2V1140.5H407.5V1140.1H408.8V1142.7H410.0V1141.2H411.2V1140.6H412.5V1139.4H413.8V1139.9H415.0V1144.5H416.2V1141.7H417.5V1144.7H418.8V1141.8H420.0V1144.7H421.2V1142.1H422.5V1142.3H423.8V1142.4H425.0V1143.1H426.2V1144.1H427.5V1144.5H428.8V1144.7H430.0V1143.6H431.2" fill="none" stroke="#f7ea1c" stroke-width="2.0" stroke-linejoin="miter"/>
<path d="M32.8 1142.7H34.0V1143.2H35.3V1141.6H36.5V1142.2H37.8V1143.1H39.0V1142.6H40.3V1142.0H41.5V1142.7H42.8V1143.1H44.0V1142.7H45.3V1142.8H46.5V1142.8H47.8V1141.9H49.0V1142.3H50.3V1142.8H51.5V1142.1H52.8V1141.7H54.0V1142.8H55.3V1142.5H56.5V1143.1H57.8V1142.9H59.0V1142.9H60.3V1142.6H61.5V1143.1H62.8V1142.4H64.0V1143.2H65.3V1142.2H66.5V1141.8H67.8V1143.1H69.0V1142.5H70.3V1142.3H71.5V1141.9H72.8V1142.8H74.0V1142.7H75.3V1143.2H76.5V1142.4H77.8V1141.4H79.0V1141.9H80.3V1143.0H81.5V1142.8H82.8V1142.9H84.0V1142.7H85.3V1142.2H86.5V1142.4H87.8V1143.1H89.0V1142.1H90.3V1143.2H91.5V1143.2H92.8V1143.2H94.0V1143.2H95.3V1143.2H96.5V1143.2H97.8V1143.2H99.0V1143.2H100.3V1143.2H101.5V1143.2H102.8V1143.2H104.0V1143.1H105.3V1143.2H106.5V1143.1H107.8V1143.0H109.0V1143.2H110.3V1143.2H111.5V1143.2H112.8V1143.0H114.0V1143.0H115.3V1143.2H116.5V1142.9H117.8V1143.2H119.0V1143.2H120.3V1143.2H121.5V1143.2H122.8V1143.2H124.0V1143.2H125.3V1143.2H126.5V1143.2H127.8V1143.2H129.1V1143.2H130.3V1142.8H131.6V1143.2H132.8V1143.2H134.1V1142.6H135.3V1143.2H136.6V1143.2H137.8V1143.2H139.1V1143.2H140.3V1143.2H141.6V1143.2H142.8V1143.2H144.1V1143.2H145.3V1143.2H146.6V1143.2H147.8V1143.2H149.1V1143.2H150.3V1143.2H151.6V1142.2H152.8V1142.2H154.1V1142.7H155.3V1142.1H156.6V1143.2H157.8V1143.2H159.1V1142.7H160.3V1143.2H161.6V1143.1H162.8V1143.2H164.1V1141.9H165.3V1143.2H166.6V1142.0H167.8V1143.2H169.1V1141.5H170.3V1142.3H171.6V1141.9H172.8V1143.2H174.1V1141.3H175.3V1143.2H176.6V1143.2H177.8V1142.9H179.1V1141.5H180.3V1143.2H181.6V1143.2H182.8V1143.2H184.1V1141.3H185.3V1143.2H186.6V1141.7H187.8V1140.7H189.1V1140.7H190.3V1141.3H191.6V1142.7H192.8V1141.8H194.1V1143.2H195.3V1143.2H196.6V1141.7H197.8V1143.0H199.1V1140.3H200.3V1140.0H201.6V1140.5H202.8V1140.6H204.1V1138.5H205.3V1142.0H206.6V1139.5H207.8V1138.0H209.1V1137.6H210.3V1136.1H211.6V1135.2H212.8V1134.3H214.1V1134.0H215.3V1138.9H216.6V1131.7H217.8V1130.8H219.1V1131.1H220.3V1131.2H221.6V1132.6H222.8V1127.1H224.1V1132.9H225.3V1128.3H226.6V1129.0H227.8V1126.1H229.1V1130.3H230.3V1130.9H231.6V1128.3H232.8V1133.7H234.1V1132.0H235.3V1124.7H236.6V1124.9H237.8V1124.7H239.1V1125.9H240.3V1126.5H241.6V1121.5H242.8V1120.8H244.1V1120.0H245.3V1119.2H246.6V1122.0H247.8V1117.6H249.1V1120.8H250.3V1119.8H251.6V1116.9H252.8V1115.2H254.1V1117.4H255.3V1117.7H256.6V1114.2H257.8V1114.2H259.1V1118.1H260.3V1114.2H261.6V1121.2H262.8V1114.2H264.1V1116.8H265.3V1118.7H266.6V1111.6H267.8V1110.8H269.1V1117.2H270.3V1111.3H271.6V1113.8H272.8V1116.0H274.1V1102.7H275.3V1103.0H276.6V1101.6H277.8V1092.0H279.1V1092.4H280.3V1088.3H281.6V1095.6H282.8V1098.1H284.1V1084.0H285.3V1085.0H286.6V1083.1H287.8V1082.7H289.1V1086.4H290.3V1081.8H291.6V1085.9H292.8V1084.1H294.1V1073.7H295.3V1074.5H296.6V1068.3H297.8V1072.2H299.1V1070.4H300.3V1077.3H301.6V1081.0H302.8V1070.8H304.1V1075.0H305.3V1071.4H306.6V1069.5H307.8V1069.9H309.1V1076.2H310.3V1075.9H311.6V1075.4H312.8V1078.5H314.1V1068.4H315.3V1058.4H316.6V1070.6H317.8V1063.0H319.1V1064.8H320.3V1051.8H321.6V1052.7H322.8V1049.6H324.1V1057.5H325.3V1065.0H326.6V1074.1H327.8V1060.9H329.1V1062.8H330.3V1062.5H331.6V1071.3H332.8V1069.2H334.1V1069.0H335.3V1074.8H336.6V1081.7H337.8V1081.5H339.1V1081.6H340.3V1085.9H341.6V1090.8H342.8V1091.1H344.1V1102.2H345.3V1097.4H346.6V1105.4H347.8V1111.2H349.1V1108.7H350.3V1105.6H351.6V1106.7H352.8V1113.7H354.1V1113.5H355.3V1118.1H356.6V1116.3H357.8V1114.9H359.1V1117.6H360.3V1117.5H361.6V1121.3H362.8V1122.9H364.1V1129.1H365.3V1126.7H366.6V1125.9H367.8V1128.3H369.1V1127.9H370.3V1131.4H371.6V1131.7H372.8V1136.9H374.1V1134.0H375.3V1132.2H376.6V1134.3H377.8V1135.4H379.1V1132.4H380.3V1132.9H381.6V1133.4H382.8V1134.3H384.1V1137.5H385.3V1138.8H386.6V1137.1H387.8V1137.8H389.1V1137.2H390.3V1138.2H391.6V1137.7H392.8V1139.4H394.1V1138.2H395.3V1141.1H396.6V1142.2H397.8V1141.6H399.1V1141.3H400.3V1142.2H401.6V1140.7H402.8V1142.6H404.1V1143.2H405.3V1141.3H406.6V1143.2H407.8V1143.2H409.1V1143.2H410.3V1142.1H411.6V1143.2H412.8V1143.2H414.1V1143.2H415.3V1143.2H416.6V1143.2H417.8V1142.9H419.1V1143.2H420.3V1143.2H421.6V1143.2H422.8V1142.3H424.1V1142.4H425.3V1142.6H426.6V1142.5H427.8V1142.4H429.1V1142.5H430.3V1142.4H431.6V1142.8H432.8V1143.0H434.1V1143.1H435.3V1142.0H436.6V1143.1H437.8V1142.5H439.1V1143.0H440.3V1143.1H441.6V1143.1H442.8V1142.0H444.1V1142.7H445.3V1142.4H446.6V1142.0H447.8V1142.8H449.1V1143.1H450.3V1142.7H451.6V1142.9H452.8V1141.0H454.1V1142.9H455.3V1142.9H456.6V1142.5H457.8V1142.4H459.1V1143.2H460.3V1143.2H461.6V1143.0H462.8V1142.6H464.1V1142.9H465.3V1141.7H466.6V1142.1H467.8V1142.7H469.1V1141.9H470.3V1142.9H471.6V1142.6H472.8V1142.3H474.1V1142.8H475.3V1142.9H476.6V1142.7H477.8V1143.2H479.1V1142.0H480.3V1142.3H481.6V1142.5H482.8V1142.7H484.1V1142.3H485.3V1141.1H486.6V1143.2H487.8V1143.1H489.1V1140.2H490.3V1142.1H491.6V1143.1H492.8V1142.6H494.1V1143.1H495.3V1142.9H496.6V1142.2H497.8V1142.9H499.1V1140.0H500.3V1141.2H501.6V1142.1H502.8V1142.8H504.1V1142.3H505.3V1142.3H506.6V1142.3H507.8V1143.1H509.1V1142.1H510.3V1143.0H511.6V1142.4H512.8" fill="none" stroke="#e3243a" stroke-width="2.0" stroke-linejoin="miter"/>
<path d="M32.8 1142.7H34.0V1143.0H35.3V1142.9H36.5V1143.0H37.8V1143.1H39.0V1142.9H40.3V1143.2H41.5V1141.3H42.8V1142.7H44.0V1142.6H45.3V1143.1H46.5V1142.9H47.8V1143.0H49.0V1142.8H50.3V1143.2H51.5V1143.4H52.8V1143.0H54.0V1141.9H55.3V1143.0H56.5V1143.6H57.8V1143.3H59.0V1140.2H60.3V1142.9H61.5V1142.9H62.8V1143.4H64.0V1143.1H65.3V1143.0H66.5V1142.3H67.8V1143.1H69.0V1142.3H70.3V1142.4H71.5V1142.9H72.8V1143.5H74.0V1142.8H75.3V1142.7H76.5V1143.6H77.8V1143.5H79.0V1143.2H80.3V1142.2H81.5V1142.8H82.8V1141.8H84.0V1142.8H85.3V1143.3H86.5V1143.0H87.8V1143.5H89.0V1143.1H90.3V1143.6H91.5V1143.6H92.8V1142.8H94.0V1143.6H95.3V1142.7H96.5V1143.6H97.8V1143.6H99.0V1142.6H100.3V1143.6H101.5V1142.5H102.8V1143.6H104.0V1143.3H105.3V1143.6H106.5V1143.6H107.8V1143.4H109.0V1143.1H110.3V1143.1H111.5V1142.3H112.8V1142.8H114.0V1143.6H115.3V1143.6H116.5V1143.6H117.8V1142.2H119.0V1143.6H120.3V1141.8H121.5V1142.0H122.8V1142.0H124.0V1143.1H125.3V1143.6H126.5V1141.9H127.8V1143.6H129.1V1141.8H130.3V1143.6H131.6V1143.6H132.8V1142.2H134.1V1143.5H135.3V1143.2H136.6V1143.6H137.8V1141.6H139.1V1143.6H140.3V1143.6H141.6V1142.3H142.8V1142.6H144.1V1141.4H145.3V1142.0H146.6V1142.0H147.8V1142.9H149.1V1142.2H150.3V1141.2H151.6V1142.8H152.8V1142.9H154.1V1141.1H155.3V1142.4H156.6V1142.2H157.8V1140.9H159.1V1140.8H160.3V1141.9H161.6V1141.7H162.8V1140.6H164.1V1142.9H165.3V1142.2H166.6V1141.9H167.8V1142.3H169.1V1142.4H170.3V1140.2H171.6V1140.2H172.8V1140.2H174.1V1140.1H175.3V1141.8H176.6V1139.9H177.8V1142.6H179.1V1140.2H180.3V1142.7H181.6V1140.6H182.8V1142.4H184.1V1141.9H185.3V1141.0H186.6V1139.4H187.8V1141.1H189.1V1139.7H190.3V1140.3H191.6V1141.0H192.8V1141.9H194.1V1143.6H195.3V1138.5H196.6V1139.9H197.8V1138.9H199.1V1139.2H200.3V1138.7H201.6V1139.7H202.8V1138.2H204.1V1139.4H205.3V1138.9H206.6V1137.7H207.8V1137.4H209.1V1140.1H210.3V1139.8H211.6V1140.5H212.8V1139.0H214.1V1137.8H215.3V1139.1H216.6V1139.0H217.8V1136.4H219.1V1137.3H220.3V1138.0H221.6V1137.4H222.8V1142.1H224.1V1138.4H225.3V1141.3H226.6V1138.6H227.8V1137.3H229.1V1137.2H230.3V1140.7H231.6V1142.8H232.8V1142.2H234.1V1139.6H235.3V1136.5H236.6V1137.5H237.8V1139.6H239.1V1143.6H240.3V1138.8H241.6V1137.1H242.8V1135.4H244.1V1140.0H245.3V1136.2H246.6V1136.9H247.8V1135.1H249.1V1137.0H250.3V1136.0H251.6V1136.6H252.8V1136.7H254.1V1135.8H255.3V1136.0H256.6V1135.7H257.8V1132.1H259.1V1134.0H260.3V1131.5H261.6V1132.4H262.8V1134.1H264.1V1135.0H265.3V1132.6H266.6V1133.8H267.8V1130.0H269.1V1132.3H270.3V1131.7H271.6V1128.7H272.8V1128.4H274.1V1131.4H275.3V1128.8H276.6V1130.7H277.8V1126.4H279.1V1133.0H280.3V1126.4H281.6V1127.9H282.8V1123.8H284.1V1123.2H285.3V1122.6H286.6V1130.1H287.8V1123.4H289.1V1124.4H290.3V1120.8H291.6V1121.7H292.8V1121.5H294.1V1127.0H295.3V1121.7H296.6V1126.2H297.8V1122.6H299.1V1123.4H300.3V1124.2H301.6V1125.3H302.8V1124.0H304.1V1122.8H305.3V1122.6H306.6V1121.2H307.8V1122.3H309.1V1119.4H310.3V1122.9H311.6V1125.4H312.8V1122.0H314.1V1115.5H315.3V1120.4H316.6V1116.0H317.8V1115.5H319.1V1114.2H320.3V1112.0H321.6V1109.4H322.8V1111.3H324.1V1105.8H325.3V1109.2H326.6V1103.5H327.8V1107.9H329.1V1108.3H330.3V1103.2H331.6V1098.8H332.8V1099.3H334.1V1099.6H335.3V1099.9H336.6V1102.9H337.8V1109.3H339.1V1108.2H340.3V1103.1H341.6V1100.2H342.8V1103.3H344.1V1102.4H345.3V1099.9H346.6V1097.9H347.8V1102.4H349.1V1096.5H350.3V1095.8H351.6V1096.2H352.8V1100.0H354.1V1106.7H355.3V1097.5H356.6V1094.2H357.8V1093.3H359.1V1099.4H360.3V1096.3H361.6V1097.6H362.8V1094.2H364.1V1089.1H365.3V1093.3H366.6V1094.4H367.8V1089.3H369.1V1087.0H370.3V1084.3H371.6V1087.2H372.8V1092.9H374.1V1083.7H375.3V1081.0H376.6V1069.7H377.8V1071.3H379.1V1076.3H380.3V1070.5H381.6V1071.4H382.8V1069.5H384.1V1073.4H385.3V1073.0H386.6V1065.4H387.8V1057.6H389.1V1050.0H390.3V1057.7H391.6V1077.7H392.8V1068.0H394.1V1074.3H395.3V1084.3H396.6V1079.5H397.8V1081.5H399.1V1081.4H400.3V1081.7H401.6V1077.6H402.8V1079.4H404.1V1085.2H405.3V1091.5H406.6V1084.8H407.8V1090.6H409.1V1093.5H410.3V1093.3H411.6V1104.8H412.8V1102.5H414.1V1101.3H415.3V1103.0H416.6V1105.6H417.8V1107.6H419.1V1113.5H420.3V1112.6H421.6V1119.4H422.8V1125.4H424.1V1123.2H425.3V1122.9H426.6V1126.1H427.8V1128.1H429.1V1126.6H430.3V1128.7H431.6V1130.4H432.8V1134.1H434.1V1136.4H435.3V1135.7H436.6V1139.0H437.8V1137.8H439.1V1140.1H440.3V1136.6H441.6V1140.6H442.8V1137.7H444.1V1139.4H445.3V1139.6H446.6V1140.1H447.8V1141.0H449.1V1140.1H450.3V1141.8H451.6V1143.6H452.8V1142.6H454.1V1142.7H455.3V1143.6H456.6V1143.6H457.8V1143.6H459.1V1143.4H460.3V1143.6H461.6V1143.6H462.8V1142.9H464.1V1143.1H465.3V1143.0H466.6V1143.3H467.8V1143.5H469.1V1142.7H470.3V1143.2H471.6V1142.7H472.8V1143.0H474.1V1142.8H475.3V1143.5H476.6V1143.1H477.8V1143.0H479.1V1143.0H480.3V1143.1H481.6V1143.4H482.8V1143.5H484.1V1143.6H485.3V1142.8H486.6V1143.0H487.8V1143.3H489.1V1142.6H490.3V1142.0H491.6V1143.4H492.8V1143.2H494.1V1143.4H495.3V1143.4H496.6V1143.6H497.8V1142.9H499.1V1142.6H500.3V1142.9H501.6V1143.4H502.8V1142.6H504.1V1141.2H505.3V1142.7H506.6V1142.5H507.8V1143.2H509.1V1142.8H510.3V1143.5H511.6V1142.8H512.8" fill="none" stroke="#1d5fbe" stroke-width="2.0" stroke-linejoin="miter"/>
</svg>
</body></html>
